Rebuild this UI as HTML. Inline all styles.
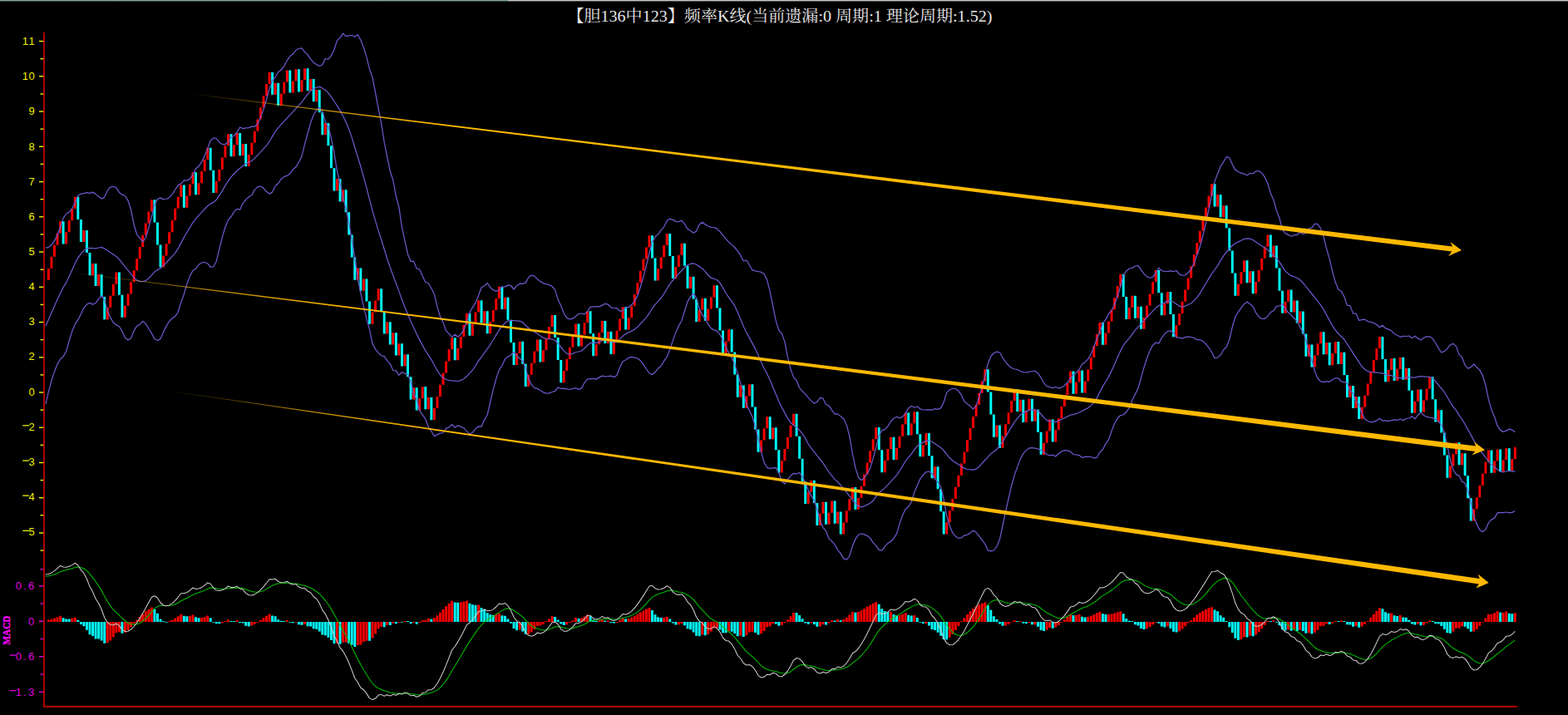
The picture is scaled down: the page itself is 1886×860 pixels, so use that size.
<!DOCTYPE html><html><head><meta charset="utf-8"><title>chart</title><style>html,body{margin:0;padding:0;background:#000;overflow:hidden}svg{display:block}</style></head><body><svg width="1886" height="860" viewBox="0 0 1886 860">
<rect width="1886" height="860" fill="#000"/>
<rect x="0" y="0" width="611" height="1" fill="#7fa591"/><rect x="611" y="0" width="1275" height="1" fill="#c8c8c8"/>
<rect x="142" y="0" width="2" height="1" fill="#9aaaa2"/><rect x="455.5" y="0" width="2" height="1" fill="#9aaaa2"/>
<rect x="0" y="1" width="611" height="1" fill="#7fa591" opacity="0.45"/><rect x="611" y="1" width="1275" height="1" fill="#c8c8c8" opacity="0.4"/>
<path fill="#ff0000" d="M56.95 322.94h2.9v14.15h-2.9zM60.49 308.79h2.9v14.15h-2.9zM64.03 294.64h2.9v14.15h-2.9zM67.58 280.49h2.9v14.15h-2.9zM71.12 266.34h2.9v14.15h-2.9zM78.20 279.30h2.9v14.15h-2.9zM81.74 265.15h2.9v14.15h-2.9zM85.29 251.00h2.9v14.15h-2.9zM88.83 236.85h2.9v14.15h-2.9zM99.45 276.92h2.9v14.15h-2.9zM110.08 316.99h2.9v14.15h-2.9zM117.16 329.95h2.9v14.15h-2.9zM127.79 370.02h2.9v14.15h-2.9zM131.33 355.87h2.9v14.15h-2.9zM134.87 341.72h2.9v14.15h-2.9zM138.42 327.57h2.9v14.15h-2.9zM149.04 367.64h2.9v14.15h-2.9zM152.58 353.49h2.9v14.15h-2.9zM156.13 339.34h2.9v14.15h-2.9zM159.67 325.19h2.9v14.15h-2.9zM163.21 311.04h2.9v14.15h-2.9zM166.75 296.89h2.9v14.15h-2.9zM170.29 282.74h2.9v14.15h-2.9zM173.84 268.59h2.9v14.15h-2.9zM177.38 254.44h2.9v14.15h-2.9zM180.92 240.29h2.9v14.15h-2.9zM195.09 307.47h2.9v14.15h-2.9zM198.63 293.32h2.9v14.15h-2.9zM202.17 279.17h2.9v14.15h-2.9zM205.71 265.02h2.9v14.15h-2.9zM209.26 250.87h2.9v14.15h-2.9zM212.80 236.72h2.9v14.15h-2.9zM216.34 222.57h2.9v14.15h-2.9zM223.42 235.53h2.9v14.15h-2.9zM226.97 221.38h2.9v14.15h-2.9zM230.51 207.23h2.9v14.15h-2.9zM237.59 220.19h2.9v14.15h-2.9zM241.13 206.04h2.9v14.15h-2.9zM244.68 191.89h2.9v14.15h-2.9zM248.22 177.74h2.9v14.15h-2.9zM258.84 217.81h2.9v14.15h-2.9zM262.39 203.66h2.9v14.15h-2.9zM265.93 189.51h2.9v14.15h-2.9zM269.47 175.36h2.9v14.15h-2.9zM273.01 161.21h2.9v14.15h-2.9zM280.10 174.17h2.9v14.15h-2.9zM283.64 160.02h2.9v14.15h-2.9zM290.72 172.98h2.9v14.15h-2.9zM297.81 185.94h2.9v14.15h-2.9zM301.35 171.79h2.9v14.15h-2.9zM304.89 157.64h2.9v14.15h-2.9zM308.43 143.49h2.9v14.15h-2.9zM311.97 129.34h2.9v14.15h-2.9zM315.52 115.19h2.9v14.15h-2.9zM319.06 101.04h2.9v14.15h-2.9zM322.60 86.89h2.9v14.15h-2.9zM329.68 99.85h2.9v14.15h-2.9zM336.77 112.81h2.9v14.15h-2.9zM340.31 98.66h2.9v14.15h-2.9zM343.85 84.51h2.9v14.15h-2.9zM350.94 97.47h2.9v14.15h-2.9zM354.48 83.32h2.9v14.15h-2.9zM361.56 96.28h2.9v14.15h-2.9zM365.10 82.13h2.9v14.15h-2.9zM372.19 95.09h2.9v14.15h-2.9zM379.27 108.05h2.9v14.15h-2.9zM389.90 148.12h2.9v14.15h-2.9zM404.07 215.30h2.9v14.15h-2.9zM411.15 228.26h2.9v14.15h-2.9zM428.86 322.55h2.9v14.15h-2.9zM435.94 335.51h2.9v14.15h-2.9zM446.57 375.58h2.9v14.15h-2.9zM450.11 361.43h2.9v14.15h-2.9zM453.65 347.28h2.9v14.15h-2.9zM464.28 387.35h2.9v14.15h-2.9zM471.36 400.31h2.9v14.15h-2.9zM478.45 413.27h2.9v14.15h-2.9zM485.53 426.23h2.9v14.15h-2.9zM496.16 466.30h2.9v14.15h-2.9zM503.24 479.26h2.9v14.15h-2.9zM506.78 465.11h2.9v14.15h-2.9zM513.87 478.07h2.9v14.15h-2.9zM520.95 491.03h2.9v14.15h-2.9zM524.49 476.88h2.9v14.15h-2.9zM528.04 462.73h2.9v14.15h-2.9zM531.58 448.58h2.9v14.15h-2.9zM535.12 434.43h2.9v14.15h-2.9zM538.66 420.28h2.9v14.15h-2.9zM542.20 406.13h2.9v14.15h-2.9zM549.29 419.09h2.9v14.15h-2.9zM552.83 404.94h2.9v14.15h-2.9zM556.37 390.79h2.9v14.15h-2.9zM559.91 376.64h2.9v14.15h-2.9zM567.00 389.60h2.9v14.15h-2.9zM570.54 375.45h2.9v14.15h-2.9zM574.08 361.30h2.9v14.15h-2.9zM581.17 374.26h2.9v14.15h-2.9zM588.25 387.22h2.9v14.15h-2.9zM591.79 373.07h2.9v14.15h-2.9zM595.33 358.92h2.9v14.15h-2.9zM598.88 344.77h2.9v14.15h-2.9zM605.96 357.73h2.9v14.15h-2.9zM620.13 424.91h2.9v14.15h-2.9zM623.67 410.76h2.9v14.15h-2.9zM634.30 450.83h2.9v14.15h-2.9zM637.84 436.68h2.9v14.15h-2.9zM641.38 422.53h2.9v14.15h-2.9zM644.92 408.38h2.9v14.15h-2.9zM652.01 421.34h2.9v14.15h-2.9zM655.55 407.19h2.9v14.15h-2.9zM659.09 393.04h2.9v14.15h-2.9zM662.63 378.89h2.9v14.15h-2.9zM676.80 446.07h2.9v14.15h-2.9zM680.34 431.92h2.9v14.15h-2.9zM683.88 417.77h2.9v14.15h-2.9zM687.43 403.62h2.9v14.15h-2.9zM690.97 389.47h2.9v14.15h-2.9zM698.05 402.43h2.9v14.15h-2.9zM701.59 388.28h2.9v14.15h-2.9zM705.14 374.13h2.9v14.15h-2.9zM715.76 414.20h2.9v14.15h-2.9zM719.30 400.05h2.9v14.15h-2.9zM722.85 385.90h2.9v14.15h-2.9zM729.93 398.86h2.9v14.15h-2.9zM737.01 411.82h2.9v14.15h-2.9zM740.56 397.67h2.9v14.15h-2.9zM744.10 383.52h2.9v14.15h-2.9zM747.64 369.37h2.9v14.15h-2.9zM754.72 382.33h2.9v14.15h-2.9zM758.27 368.18h2.9v14.15h-2.9zM761.81 354.03h2.9v14.15h-2.9zM765.35 339.88h2.9v14.15h-2.9zM768.89 325.73h2.9v14.15h-2.9zM772.43 311.58h2.9v14.15h-2.9zM775.98 297.43h2.9v14.15h-2.9zM779.52 283.28h2.9v14.15h-2.9zM790.14 323.35h2.9v14.15h-2.9zM793.69 309.20h2.9v14.15h-2.9zM797.23 295.05h2.9v14.15h-2.9zM800.77 280.90h2.9v14.15h-2.9zM811.40 320.97h2.9v14.15h-2.9zM814.94 306.82h2.9v14.15h-2.9zM818.48 292.67h2.9v14.15h-2.9zM829.11 332.74h2.9v14.15h-2.9zM839.73 372.81h2.9v14.15h-2.9zM843.27 358.66h2.9v14.15h-2.9zM850.36 371.62h2.9v14.15h-2.9zM853.90 357.47h2.9v14.15h-2.9zM857.44 343.32h2.9v14.15h-2.9zM871.61 410.50h2.9v14.15h-2.9zM875.15 396.35h2.9v14.15h-2.9zM889.32 463.53h2.9v14.15h-2.9zM896.40 476.49h2.9v14.15h-2.9zM899.95 462.34h2.9v14.15h-2.9zM914.11 529.52h2.9v14.15h-2.9zM917.66 515.37h2.9v14.15h-2.9zM921.20 501.22h2.9v14.15h-2.9zM928.28 514.18h2.9v14.15h-2.9zM938.91 554.25h2.9v14.15h-2.9zM942.45 540.10h2.9v14.15h-2.9zM945.99 525.95h2.9v14.15h-2.9zM949.53 511.80h2.9v14.15h-2.9zM953.08 497.65h2.9v14.15h-2.9zM970.79 591.94h2.9v14.15h-2.9zM974.33 577.79h2.9v14.15h-2.9zM984.95 617.86h2.9v14.15h-2.9zM988.50 603.71h2.9v14.15h-2.9zM995.58 616.67h2.9v14.15h-2.9zM999.12 602.52h2.9v14.15h-2.9zM1006.21 615.48h2.9v14.15h-2.9zM1013.29 628.44h2.9v14.15h-2.9zM1016.83 614.29h2.9v14.15h-2.9zM1020.37 600.14h2.9v14.15h-2.9zM1023.92 585.99h2.9v14.15h-2.9zM1031.00 598.95h2.9v14.15h-2.9zM1034.54 584.80h2.9v14.15h-2.9zM1038.08 570.65h2.9v14.15h-2.9zM1041.63 556.50h2.9v14.15h-2.9zM1045.17 542.35h2.9v14.15h-2.9zM1048.71 528.20h2.9v14.15h-2.9zM1052.25 514.05h2.9v14.15h-2.9zM1062.88 554.12h2.9v14.15h-2.9zM1066.42 539.97h2.9v14.15h-2.9zM1069.96 525.82h2.9v14.15h-2.9zM1077.05 538.78h2.9v14.15h-2.9zM1080.59 524.63h2.9v14.15h-2.9zM1084.13 510.48h2.9v14.15h-2.9zM1087.67 496.33h2.9v14.15h-2.9zM1094.76 509.29h2.9v14.15h-2.9zM1098.30 495.14h2.9v14.15h-2.9zM1108.92 535.21h2.9v14.15h-2.9zM1112.47 521.06h2.9v14.15h-2.9zM1123.09 561.13h2.9v14.15h-2.9zM1137.26 628.31h2.9v14.15h-2.9zM1140.80 614.16h2.9v14.15h-2.9zM1144.34 600.01h2.9v14.15h-2.9zM1147.89 585.86h2.9v14.15h-2.9zM1151.43 571.71h2.9v14.15h-2.9zM1154.97 557.56h2.9v14.15h-2.9zM1158.51 543.41h2.9v14.15h-2.9zM1162.05 529.26h2.9v14.15h-2.9zM1165.60 515.11h2.9v14.15h-2.9zM1169.14 500.96h2.9v14.15h-2.9zM1172.68 486.81h2.9v14.15h-2.9zM1176.22 472.66h2.9v14.15h-2.9zM1179.76 458.51h2.9v14.15h-2.9zM1183.31 444.36h2.9v14.15h-2.9zM1197.47 511.54h2.9v14.15h-2.9zM1204.56 524.50h2.9v14.15h-2.9zM1208.10 510.35h2.9v14.15h-2.9zM1211.64 496.20h2.9v14.15h-2.9zM1215.18 482.05h2.9v14.15h-2.9zM1218.73 467.90h2.9v14.15h-2.9zM1225.81 480.86h2.9v14.15h-2.9zM1232.89 493.82h2.9v14.15h-2.9zM1236.44 479.67h2.9v14.15h-2.9zM1243.52 492.63h2.9v14.15h-2.9zM1254.15 532.70h2.9v14.15h-2.9zM1257.69 518.55h2.9v14.15h-2.9zM1261.23 504.40h2.9v14.15h-2.9zM1268.31 517.36h2.9v14.15h-2.9zM1271.86 503.21h2.9v14.15h-2.9zM1275.40 489.06h2.9v14.15h-2.9zM1278.94 474.91h2.9v14.15h-2.9zM1282.48 460.76h2.9v14.15h-2.9zM1286.02 446.61h2.9v14.15h-2.9zM1293.11 459.57h2.9v14.15h-2.9zM1296.65 445.42h2.9v14.15h-2.9zM1303.73 458.38h2.9v14.15h-2.9zM1307.28 444.23h2.9v14.15h-2.9zM1310.82 430.08h2.9v14.15h-2.9zM1314.36 415.93h2.9v14.15h-2.9zM1317.90 401.78h2.9v14.15h-2.9zM1321.44 387.63h2.9v14.15h-2.9zM1328.53 400.59h2.9v14.15h-2.9zM1332.07 386.44h2.9v14.15h-2.9zM1335.61 372.29h2.9v14.15h-2.9zM1339.15 358.14h2.9v14.15h-2.9zM1342.70 343.99h2.9v14.15h-2.9zM1346.24 329.84h2.9v14.15h-2.9zM1356.86 369.91h2.9v14.15h-2.9zM1360.41 355.76h2.9v14.15h-2.9zM1367.49 368.72h2.9v14.15h-2.9zM1374.57 381.68h2.9v14.15h-2.9zM1378.12 367.53h2.9v14.15h-2.9zM1381.66 353.38h2.9v14.15h-2.9zM1385.20 339.23h2.9v14.15h-2.9zM1388.74 325.08h2.9v14.15h-2.9zM1399.37 365.15h2.9v14.15h-2.9zM1402.91 351.00h2.9v14.15h-2.9zM1413.54 391.07h2.9v14.15h-2.9zM1417.08 376.92h2.9v14.15h-2.9zM1420.62 362.77h2.9v14.15h-2.9zM1424.16 348.62h2.9v14.15h-2.9zM1427.70 334.47h2.9v14.15h-2.9zM1431.25 320.32h2.9v14.15h-2.9zM1434.79 306.17h2.9v14.15h-2.9zM1438.33 292.02h2.9v14.15h-2.9zM1441.87 277.87h2.9v14.15h-2.9zM1445.41 263.72h2.9v14.15h-2.9zM1448.96 249.57h2.9v14.15h-2.9zM1452.50 235.42h2.9v14.15h-2.9zM1456.04 221.27h2.9v14.15h-2.9zM1463.12 234.23h2.9v14.15h-2.9zM1470.21 247.19h2.9v14.15h-2.9zM1487.92 341.48h2.9v14.15h-2.9zM1491.46 327.33h2.9v14.15h-2.9zM1495.00 313.18h2.9v14.15h-2.9zM1502.09 326.14h2.9v14.15h-2.9zM1509.17 339.10h2.9v14.15h-2.9zM1512.71 324.95h2.9v14.15h-2.9zM1516.25 310.80h2.9v14.15h-2.9zM1519.80 296.65h2.9v14.15h-2.9zM1523.34 282.50h2.9v14.15h-2.9zM1530.42 295.46h2.9v14.15h-2.9zM1544.59 362.64h2.9v14.15h-2.9zM1548.13 348.49h2.9v14.15h-2.9zM1555.22 361.45h2.9v14.15h-2.9zM1562.30 374.41h2.9v14.15h-2.9zM1572.93 414.48h2.9v14.15h-2.9zM1580.01 427.44h2.9v14.15h-2.9zM1583.55 413.29h2.9v14.15h-2.9zM1587.09 399.14h2.9v14.15h-2.9zM1594.18 412.10h2.9v14.15h-2.9zM1601.26 425.06h2.9v14.15h-2.9zM1604.80 410.91h2.9v14.15h-2.9zM1611.89 423.87h2.9v14.15h-2.9zM1622.51 463.94h2.9v14.15h-2.9zM1629.60 476.90h2.9v14.15h-2.9zM1636.68 489.86h2.9v14.15h-2.9zM1640.22 475.71h2.9v14.15h-2.9zM1643.77 461.56h2.9v14.15h-2.9zM1647.31 447.41h2.9v14.15h-2.9zM1650.85 433.26h2.9v14.15h-2.9zM1654.39 419.11h2.9v14.15h-2.9zM1657.93 404.96h2.9v14.15h-2.9zM1668.56 445.03h2.9v14.15h-2.9zM1672.10 430.88h2.9v14.15h-2.9zM1679.19 443.84h2.9v14.15h-2.9zM1682.73 429.69h2.9v14.15h-2.9zM1689.81 442.65h2.9v14.15h-2.9zM1700.44 482.72h2.9v14.15h-2.9zM1703.98 468.57h2.9v14.15h-2.9zM1711.06 481.53h2.9v14.15h-2.9zM1714.61 467.38h2.9v14.15h-2.9zM1718.15 453.23h2.9v14.15h-2.9zM1728.77 493.30h2.9v14.15h-2.9zM1742.94 560.48h2.9v14.15h-2.9zM1746.48 546.33h2.9v14.15h-2.9zM1750.03 532.18h2.9v14.15h-2.9zM1757.11 545.14h2.9v14.15h-2.9zM1771.28 612.32h2.9v14.15h-2.9zM1774.82 598.17h2.9v14.15h-2.9zM1778.36 584.02h2.9v14.15h-2.9zM1781.90 569.87h2.9v14.15h-2.9zM1785.45 555.72h2.9v14.15h-2.9zM1788.99 541.57h2.9v14.15h-2.9zM1796.07 554.53h2.9v14.15h-2.9zM1799.61 540.38h2.9v14.15h-2.9zM1806.70 553.34h2.9v14.15h-2.9zM1810.24 539.19h2.9v14.15h-2.9zM1817.32 552.15h2.9v14.15h-2.9zM1820.87 538.00h2.9v14.15h-2.9z"/>
<path fill="#00ffff" d="M74.66 266.34h2.9v27.11h-2.9zM92.37 236.85h2.9v27.11h-2.9zM95.91 263.96h2.9v27.11h-2.9zM103.00 276.92h2.9v27.11h-2.9zM106.54 304.03h2.9v27.11h-2.9zM113.62 316.99h2.9v27.11h-2.9zM120.71 329.95h2.9v27.11h-2.9zM124.25 357.06h2.9v27.11h-2.9zM141.96 327.57h2.9v27.11h-2.9zM145.50 354.68h2.9v27.11h-2.9zM184.46 240.29h2.9v27.11h-2.9zM188.00 267.40h2.9v27.11h-2.9zM191.55 294.51h2.9v27.11h-2.9zM219.88 222.57h2.9v27.11h-2.9zM234.05 207.23h2.9v27.11h-2.9zM251.76 177.74h2.9v27.11h-2.9zM255.30 204.85h2.9v27.11h-2.9zM276.55 161.21h2.9v27.11h-2.9zM287.18 160.02h2.9v27.11h-2.9zM294.26 172.98h2.9v27.11h-2.9zM326.14 86.89h2.9v27.11h-2.9zM333.23 99.85h2.9v27.11h-2.9zM347.39 84.51h2.9v27.11h-2.9zM358.02 83.32h2.9v27.11h-2.9zM368.65 82.13h2.9v27.11h-2.9zM375.73 95.09h2.9v27.11h-2.9zM382.81 108.05h2.9v27.11h-2.9zM386.36 135.16h2.9v27.11h-2.9zM393.44 148.12h2.9v27.11h-2.9zM396.98 175.23h2.9v27.11h-2.9zM400.52 202.34h2.9v27.11h-2.9zM407.61 215.30h2.9v27.11h-2.9zM414.69 228.26h2.9v27.11h-2.9zM418.23 255.37h2.9v27.11h-2.9zM421.78 282.48h2.9v27.11h-2.9zM425.32 309.59h2.9v27.11h-2.9zM432.40 322.55h2.9v27.11h-2.9zM439.49 335.51h2.9v27.11h-2.9zM443.03 362.62h2.9v27.11h-2.9zM457.20 347.28h2.9v27.11h-2.9zM460.74 374.39h2.9v27.11h-2.9zM467.82 387.35h2.9v27.11h-2.9zM474.91 400.31h2.9v27.11h-2.9zM481.99 413.27h2.9v27.11h-2.9zM489.07 426.23h2.9v27.11h-2.9zM492.62 453.34h2.9v27.11h-2.9zM499.70 466.30h2.9v27.11h-2.9zM510.33 465.11h2.9v27.11h-2.9zM517.41 478.07h2.9v27.11h-2.9zM545.75 406.13h2.9v27.11h-2.9zM563.46 376.64h2.9v27.11h-2.9zM577.62 361.30h2.9v27.11h-2.9zM584.71 374.26h2.9v27.11h-2.9zM602.42 344.77h2.9v27.11h-2.9zM609.50 357.73h2.9v27.11h-2.9zM613.04 384.84h2.9v27.11h-2.9zM616.59 411.95h2.9v27.11h-2.9zM627.21 410.76h2.9v27.11h-2.9zM630.75 437.87h2.9v27.11h-2.9zM648.46 408.38h2.9v27.11h-2.9zM666.17 378.89h2.9v27.11h-2.9zM669.72 406.00h2.9v27.11h-2.9zM673.26 433.11h2.9v27.11h-2.9zM694.51 389.47h2.9v27.11h-2.9zM708.68 374.13h2.9v27.11h-2.9zM712.22 401.24h2.9v27.11h-2.9zM726.39 385.90h2.9v27.11h-2.9zM733.47 398.86h2.9v27.11h-2.9zM751.18 369.37h2.9v27.11h-2.9zM783.06 283.28h2.9v27.11h-2.9zM786.60 310.39h2.9v27.11h-2.9zM804.31 280.90h2.9v27.11h-2.9zM807.85 308.01h2.9v27.11h-2.9zM822.02 292.67h2.9v27.11h-2.9zM825.56 319.78h2.9v27.11h-2.9zM832.65 332.74h2.9v27.11h-2.9zM836.19 359.85h2.9v27.11h-2.9zM846.82 358.66h2.9v27.11h-2.9zM860.98 343.32h2.9v27.11h-2.9zM864.53 370.43h2.9v27.11h-2.9zM868.07 397.54h2.9v27.11h-2.9zM878.69 396.35h2.9v27.11h-2.9zM882.24 423.46h2.9v27.11h-2.9zM885.78 450.57h2.9v27.11h-2.9zM892.86 463.53h2.9v27.11h-2.9zM903.49 462.34h2.9v27.11h-2.9zM907.03 489.45h2.9v27.11h-2.9zM910.57 516.56h2.9v27.11h-2.9zM924.74 501.22h2.9v27.11h-2.9zM931.82 514.18h2.9v27.11h-2.9zM935.37 541.29h2.9v27.11h-2.9zM956.62 497.65h2.9v27.11h-2.9zM960.16 524.76h2.9v27.11h-2.9zM963.70 551.87h2.9v27.11h-2.9zM967.24 578.98h2.9v27.11h-2.9zM977.87 577.79h2.9v27.11h-2.9zM981.41 604.90h2.9v27.11h-2.9zM992.04 603.71h2.9v27.11h-2.9zM1002.66 602.52h2.9v27.11h-2.9zM1009.75 615.48h2.9v27.11h-2.9zM1027.46 585.99h2.9v27.11h-2.9zM1055.79 514.05h2.9v27.11h-2.9zM1059.34 541.16h2.9v27.11h-2.9zM1073.50 525.82h2.9v27.11h-2.9zM1091.21 496.33h2.9v27.11h-2.9zM1101.84 495.14h2.9v27.11h-2.9zM1105.38 522.25h2.9v27.11h-2.9zM1116.01 521.06h2.9v27.11h-2.9zM1119.55 548.17h2.9v27.11h-2.9zM1126.63 561.13h2.9v27.11h-2.9zM1130.18 588.24h2.9v27.11h-2.9zM1133.72 615.35h2.9v27.11h-2.9zM1186.85 444.36h2.9v27.11h-2.9zM1190.39 471.47h2.9v27.11h-2.9zM1193.93 498.58h2.9v27.11h-2.9zM1201.02 511.54h2.9v27.11h-2.9zM1222.27 467.90h2.9v27.11h-2.9zM1229.35 480.86h2.9v27.11h-2.9zM1239.98 479.67h2.9v27.11h-2.9zM1247.06 492.63h2.9v27.11h-2.9zM1250.60 519.74h2.9v27.11h-2.9zM1264.77 504.40h2.9v27.11h-2.9zM1289.57 446.61h2.9v27.11h-2.9zM1300.19 445.42h2.9v27.11h-2.9zM1324.99 387.63h2.9v27.11h-2.9zM1349.78 329.84h2.9v27.11h-2.9zM1353.32 356.95h2.9v27.11h-2.9zM1363.95 355.76h2.9v27.11h-2.9zM1371.03 368.72h2.9v27.11h-2.9zM1392.28 325.08h2.9v27.11h-2.9zM1395.83 352.19h2.9v27.11h-2.9zM1406.45 351.00h2.9v27.11h-2.9zM1409.99 378.11h2.9v27.11h-2.9zM1459.58 221.27h2.9v27.11h-2.9zM1466.67 234.23h2.9v27.11h-2.9zM1473.75 247.19h2.9v27.11h-2.9zM1477.29 274.30h2.9v27.11h-2.9zM1480.83 301.41h2.9v27.11h-2.9zM1484.38 328.52h2.9v27.11h-2.9zM1498.54 313.18h2.9v27.11h-2.9zM1505.63 326.14h2.9v27.11h-2.9zM1526.88 282.50h2.9v27.11h-2.9zM1533.96 295.46h2.9v27.11h-2.9zM1537.51 322.57h2.9v27.11h-2.9zM1541.05 349.68h2.9v27.11h-2.9zM1551.67 348.49h2.9v27.11h-2.9zM1558.76 361.45h2.9v27.11h-2.9zM1565.84 374.41h2.9v27.11h-2.9zM1569.38 401.52h2.9v27.11h-2.9zM1576.47 414.48h2.9v27.11h-2.9zM1590.64 399.14h2.9v27.11h-2.9zM1597.72 412.10h2.9v27.11h-2.9zM1608.35 410.91h2.9v27.11h-2.9zM1615.43 423.87h2.9v27.11h-2.9zM1618.97 450.98h2.9v27.11h-2.9zM1626.06 463.94h2.9v27.11h-2.9zM1633.14 476.90h2.9v27.11h-2.9zM1661.48 404.96h2.9v27.11h-2.9zM1665.02 432.07h2.9v27.11h-2.9zM1675.64 430.88h2.9v27.11h-2.9zM1686.27 429.69h2.9v27.11h-2.9zM1693.35 442.65h2.9v27.11h-2.9zM1696.90 469.76h2.9v27.11h-2.9zM1707.52 468.57h2.9v27.11h-2.9zM1721.69 453.23h2.9v27.11h-2.9zM1725.23 480.34h2.9v27.11h-2.9zM1732.32 493.30h2.9v27.11h-2.9zM1735.86 520.41h2.9v27.11h-2.9zM1739.40 547.52h2.9v27.11h-2.9zM1753.57 532.18h2.9v27.11h-2.9zM1760.65 545.14h2.9v27.11h-2.9zM1764.19 572.25h2.9v27.11h-2.9zM1767.74 599.36h2.9v27.11h-2.9zM1792.53 541.57h2.9v27.11h-2.9zM1803.16 540.38h2.9v27.11h-2.9zM1813.78 539.19h2.9v27.11h-2.9z"/>
<polyline fill="none" stroke="#6a5acd" stroke-width="1.25" stroke-linejoin="round" points="54.9,298.2 58.4,297.3 61.9,294.5 65.5,289.7 69.0,282.6 72.6,273.0 76.1,262.4 79.7,257.0 83.2,255.4 86.7,250.8 90.3,243.7 93.8,235.3 97.4,233.1 100.9,232.7 104.4,231.7 108.0,232.3 111.5,231.1 115.1,233.4 118.6,236.4 122.2,239.1 125.7,237.1 129.2,229.2 132.8,225.1 136.3,224.2 139.9,225.9 143.4,231.4 146.9,234.2 150.5,235.5 154.0,241.4 157.6,252.5 161.1,270.2 164.7,282.3 168.2,286.4 171.7,291.0 175.3,286.0 178.8,274.2 182.4,260.8 185.9,246.2 189.5,239.4 193.0,237.9 196.5,239.9 200.1,239.5 203.6,237.5 207.2,233.6 210.7,228.0 214.2,222.9 217.8,220.9 221.3,216.9 224.9,217.2 228.4,215.1 232.0,209.9 235.5,203.0 239.0,200.1 242.6,194.9 246.1,187.5 249.7,178.4 253.2,169.1 256.8,165.9 260.3,166.5 263.8,171.2 267.4,173.6 270.9,173.7 274.5,170.6 278.0,165.0 281.5,163.5 285.1,159.0 288.6,153.0 292.2,154.6 295.7,153.9 299.3,153.6 302.8,152.1 306.3,152.5 309.9,148.7 313.4,141.4 317.0,131.4 320.5,119.7 324.0,107.0 327.6,97.2 331.1,92.7 334.7,86.7 338.2,84.0 341.8,79.4 345.3,72.8 348.8,67.6 352.4,65.0 355.9,60.3 359.5,58.5 363.0,57.9 366.6,62.6 370.1,65.8 373.6,70.9 377.2,75.3 380.7,77.6 384.3,79.5 387.8,77.8 391.3,70.5 394.9,71.3 398.4,66.9 402.0,59.8 405.5,48.6 409.1,45.1 412.6,40.2 416.1,43.6 419.7,42.9 423.2,42.5 426.8,44.3 430.3,41.7 433.9,48.3 437.4,57.2 440.9,68.6 444.5,83.2 448.0,93.1 451.6,111.7 455.1,130.3 458.6,148.2 462.2,171.0 465.7,188.7 469.3,206.0 472.8,216.8 476.4,236.1 479.9,249.4 483.4,272.8 487.0,289.9 490.5,305.8 494.1,314.4 497.6,314.3 501.1,322.8 504.7,324.0 508.2,332.0 511.8,339.5 515.3,340.5 518.9,346.7 522.4,353.9 525.9,368.9 529.5,380.8 533.0,387.9 536.6,397.9 540.1,401.4 543.7,405.4 547.2,402.2 550.7,405.2 554.3,401.9 557.8,396.9 561.4,386.9 564.9,375.9 568.4,369.9 572.0,364.2 575.5,355.4 579.1,345.8 582.6,344.0 586.2,340.5 589.7,345.7 593.2,348.9 596.8,350.3 600.3,348.8 603.9,345.1 607.4,344.9 611.0,342.9 614.5,343.5 618.0,348.0 621.6,343.7 625.1,341.2 628.7,341.4 632.2,340.1 635.7,333.8 639.3,331.1 642.8,331.8 646.4,335.8 649.9,338.4 653.5,340.7 657.0,341.6 660.5,342.6 664.1,344.5 667.6,348.6 671.2,360.2 674.7,367.7 678.2,376.8 681.8,382.4 685.3,383.9 688.9,383.2 692.4,380.4 696.0,377.5 699.5,377.0 703.0,377.8 706.6,374.6 710.1,369.4 713.7,368.9 717.2,368.6 720.8,368.9 724.3,367.1 727.8,365.3 731.4,366.2 734.9,369.8 738.5,370.5 742.0,370.7 745.5,374.2 749.1,373.8 752.6,370.3 756.2,369.4 759.7,366.8 763.3,362.4 766.8,355.6 770.3,345.2 773.9,332.9 777.4,319.6 781.0,304.5 784.5,291.1 788.1,284.8 791.6,281.6 795.1,276.8 798.7,272.8 802.2,265.8 805.8,263.1 809.3,264.4 812.8,266.4 816.4,266.7 819.9,265.1 823.5,269.3 827.0,275.2 830.6,277.6 834.1,280.2 837.6,278.1 841.2,269.9 844.7,267.3 848.3,269.9 851.8,272.0 855.3,273.4 858.9,273.7 862.4,275.4 866.0,278.5 869.5,282.8 873.1,287.3 876.6,291.2 880.1,294.4 883.7,297.5 887.2,301.8 890.8,307.1 894.3,314.0 897.9,313.0 901.4,318.8 904.9,324.8 908.5,325.9 912.0,326.5 915.6,327.3 919.1,329.6 922.6,336.6 926.2,350.6 929.7,368.6 933.3,385.9 936.8,397.3 940.4,401.1 943.9,411.1 947.4,429.4 951.0,444.3 954.5,453.6 958.1,457.8 961.6,466.4 965.2,470.3 968.7,474.2 972.2,478.4 975.8,482.1 979.3,485.1 982.9,483.5 986.4,478.3 989.9,479.2 993.5,486.5 997.0,487.8 1000.6,493.3 1004.1,498.1 1007.7,497.9 1011.2,500.9 1014.7,503.7 1018.3,511.4 1021.8,524.5 1025.4,545.7 1028.9,562.6 1032.5,574.0 1036.0,577.7 1039.5,574.8 1043.1,569.7 1046.6,563.4 1050.2,551.6 1053.7,538.3 1057.2,523.8 1060.8,517.7 1064.3,516.6 1067.9,512.7 1071.4,507.0 1075.0,503.2 1078.5,501.2 1082.0,502.9 1085.6,501.4 1089.1,497.1 1092.7,490.9 1096.2,488.4 1099.7,490.0 1103.3,489.0 1106.8,491.8 1110.4,493.0 1113.9,492.9 1117.5,492.7 1121.0,493.3 1124.5,491.6 1128.1,492.4 1131.6,490.9 1135.2,483.5 1138.7,472.4 1142.3,468.8 1145.8,467.3 1149.3,467.5 1152.9,470.2 1156.4,475.3 1160.0,483.1 1163.5,485.8 1167.0,488.6 1170.6,492.2 1174.1,488.1 1177.7,477.6 1181.2,465.4 1184.8,452.5 1188.3,437.3 1191.8,428.7 1195.4,424.5 1198.9,423.1 1202.5,424.0 1206.0,430.3 1209.5,435.3 1213.1,439.5 1216.6,442.5 1220.2,444.0 1223.7,444.5 1227.3,446.5 1230.8,447.7 1234.3,448.0 1237.9,447.3 1241.4,446.5 1245.0,446.4 1248.5,448.9 1252.1,454.3 1255.6,460.8 1259.1,464.6 1262.7,465.5 1266.2,466.7 1269.8,465.5 1273.3,466.9 1276.8,466.1 1280.4,463.8 1283.9,460.2 1287.5,455.3 1291.0,450.8 1294.6,448.5 1298.1,444.3 1301.6,438.0 1305.2,435.4 1308.7,431.9 1312.3,425.7 1315.8,416.9 1319.4,407.2 1322.9,399.2 1326.4,389.1 1330.0,384.4 1333.5,377.3 1337.1,373.5 1340.6,366.5 1344.1,356.8 1347.7,344.6 1351.2,331.6 1354.8,325.9 1358.3,323.0 1361.9,322.4 1365.4,320.0 1368.9,319.4 1372.5,324.7 1376.0,329.4 1379.6,332.8 1383.1,334.3 1386.7,333.0 1390.2,328.5 1393.7,322.2 1397.3,325.5 1400.8,326.6 1404.4,326.3 1407.9,325.8 1411.4,326.6 1415.0,325.5 1418.5,329.9 1422.1,331.2 1425.6,330.8 1429.2,328.0 1432.7,323.9 1436.2,317.1 1439.8,307.0 1443.3,296.8 1446.9,283.4 1450.4,268.2 1453.9,251.9 1457.5,234.8 1461.0,218.4 1464.6,208.8 1468.1,200.1 1471.7,194.6 1475.2,188.7 1478.7,189.7 1482.3,197.7 1485.8,204.4 1489.4,206.5 1492.9,208.1 1496.5,209.1 1500.0,210.7 1503.5,208.7 1507.1,208.7 1510.6,205.9 1514.2,205.8 1517.7,208.1 1521.2,212.9 1524.8,220.4 1528.3,232.4 1531.9,240.6 1535.4,253.2 1539.0,262.5 1542.5,276.4 1546.0,280.6 1549.6,282.6 1553.1,284.3 1556.7,282.5 1560.2,282.5 1563.8,279.5 1567.3,281.7 1570.8,280.1 1574.4,274.9 1577.9,273.8 1581.5,269.2 1585.0,269.7 1588.5,274.6 1592.1,285.2 1595.6,299.2 1599.2,311.4 1602.7,326.9 1606.3,339.4 1609.8,348.2 1613.3,350.3 1616.9,357.0 1620.4,367.2 1624.0,367.9 1627.5,377.1 1631.0,377.0 1634.6,385.3 1638.1,384.7 1641.7,384.2 1645.2,386.6 1648.8,387.4 1652.3,388.4 1655.8,390.5 1659.4,393.7 1662.9,391.3 1666.5,394.9 1670.0,396.1 1673.6,397.7 1677.1,401.7 1680.6,403.3 1684.2,405.3 1687.7,404.3 1691.3,404.5 1694.8,404.0 1698.3,406.7 1701.9,404.2 1705.4,406.9 1709.0,409.0 1712.5,406.2 1716.1,404.9 1719.6,404.8 1723.1,407.2 1726.7,412.5 1730.2,418.9 1733.8,424.0 1737.3,422.6 1740.8,419.2 1744.4,414.9 1747.9,413.3 1751.5,416.6 1755.0,426.4 1758.6,429.8 1762.1,439.2 1765.6,443.2 1769.2,441.6 1772.7,438.0 1776.3,441.8 1779.8,445.1 1783.4,451.9 1786.9,463.2 1790.4,480.4 1794.0,493.1 1797.5,500.9 1801.1,512.2 1804.6,517.4 1808.1,519.4 1811.7,518.1 1815.2,516.1 1818.8,517.2 1822.3,519.7" />
<polyline fill="none" stroke="#6a5acd" stroke-width="1.25" stroke-linejoin="round" points="54.9,392.2 58.4,384.2 61.9,376.3 65.5,368.3 69.0,360.3 72.6,352.4 76.1,345.7 79.7,339.8 83.2,332.6 86.7,324.7 90.3,316.7 93.8,310.0 97.4,305.3 100.9,301.5 104.4,298.9 108.0,298.3 111.5,298.6 115.1,298.9 118.6,298.0 122.2,297.4 125.7,299.0 129.2,301.3 132.8,303.7 136.3,306.0 139.9,308.4 143.4,312.0 146.9,316.4 150.5,320.8 154.0,325.2 157.6,329.7 161.1,334.1 164.7,337.2 168.2,338.4 171.7,338.7 175.3,337.7 178.8,334.7 182.4,330.9 185.9,327.0 189.5,324.4 193.0,322.7 196.5,319.6 200.1,315.8 203.6,312.0 207.2,308.1 210.7,304.3 214.2,299.2 217.8,292.1 221.3,285.4 224.9,279.5 228.4,273.6 232.0,267.7 235.5,263.0 239.0,259.2 242.6,255.4 246.1,251.5 249.7,247.7 253.2,245.1 256.8,243.3 260.3,240.3 263.8,235.2 267.4,229.3 270.9,223.4 274.5,217.5 278.0,212.9 281.5,209.0 285.1,205.2 288.6,202.6 292.2,199.6 295.7,197.0 299.3,195.2 302.8,193.5 306.3,190.4 309.9,186.6 313.4,182.8 317.0,178.9 320.5,175.1 324.0,170.0 327.6,164.1 331.1,158.2 334.7,153.6 338.2,149.7 341.8,145.9 345.3,142.1 348.8,138.2 352.4,134.4 355.9,130.6 359.5,126.7 363.0,122.9 366.6,117.8 370.1,113.2 373.6,109.3 377.2,106.7 380.7,105.0 384.3,104.4 387.8,106.0 391.3,108.3 394.9,111.9 398.4,116.3 402.0,122.0 405.5,127.2 409.1,132.9 412.6,139.4 416.1,147.1 419.7,155.6 423.2,165.4 426.8,177.2 430.3,188.7 433.9,200.5 437.4,213.2 440.9,225.9 444.5,239.8 448.0,253.3 451.6,265.9 455.1,277.4 458.6,288.0 462.2,299.8 465.7,311.2 469.3,321.8 472.8,331.2 476.4,341.0 479.9,350.4 483.4,360.1 487.0,369.5 490.5,378.0 494.1,386.6 497.6,393.9 501.1,401.6 504.7,408.9 508.2,415.4 511.8,421.9 515.3,427.1 518.9,432.8 522.4,439.3 525.9,445.7 529.5,451.0 533.0,454.2 536.6,456.5 540.1,457.6 543.7,457.9 547.2,458.2 550.7,458.5 554.3,457.6 557.8,455.8 561.4,452.8 564.9,448.9 568.4,445.1 572.0,440.0 575.5,434.1 579.1,429.5 582.6,424.4 586.2,419.7 589.7,414.7 593.2,408.8 596.8,402.9 600.3,397.0 603.9,392.3 607.4,388.5 611.0,385.9 614.5,385.3 618.0,385.6 621.6,385.9 625.1,386.2 628.7,387.7 632.2,391.3 635.7,394.5 639.3,396.9 642.8,399.2 646.4,401.6 649.9,403.9 653.5,406.3 657.0,407.4 660.5,407.7 664.1,408.0 667.6,409.5 671.2,413.1 674.7,417.5 678.2,421.9 681.8,425.1 685.3,426.2 688.9,425.3 692.4,423.5 696.0,423.0 699.5,422.0 703.0,419.0 706.6,415.2 710.1,412.6 713.7,412.1 717.2,412.4 720.8,411.4 724.3,409.6 727.8,409.1 731.4,409.4 734.9,410.9 738.5,412.0 742.0,411.1 745.5,408.1 749.1,404.2 752.6,401.6 756.2,399.9 759.7,398.1 763.3,396.3 766.8,393.3 770.3,389.5 773.9,385.6 777.4,381.8 781.0,376.7 784.5,370.8 788.1,366.2 791.6,362.3 795.1,358.5 798.7,353.4 802.2,347.5 805.8,341.6 809.3,337.0 812.8,333.1 816.4,329.3 819.9,325.5 823.5,321.6 827.0,319.0 830.6,317.3 834.1,316.7 837.6,318.3 841.2,320.6 844.7,323.0 848.3,326.6 851.8,331.0 855.3,334.2 858.9,335.3 862.4,336.8 866.0,340.4 869.5,346.1 873.1,352.5 876.6,357.8 880.1,362.2 883.7,367.9 887.2,375.6 890.8,384.1 894.3,392.7 897.9,400.0 901.4,406.4 904.9,412.9 908.5,419.4 912.0,427.1 915.6,435.7 919.1,443.0 922.6,449.4 926.2,457.2 929.7,465.7 933.3,474.2 936.8,482.8 940.4,490.1 943.9,496.6 947.4,503.1 951.0,508.3 954.5,511.5 958.1,513.8 961.6,517.4 965.2,521.8 968.7,527.5 972.2,534.0 975.8,539.2 979.3,543.6 982.9,548.1 986.4,552.5 989.9,556.9 993.5,562.5 997.0,567.8 1000.6,572.2 1004.1,576.6 1007.7,579.8 1011.2,583.4 1014.7,587.8 1018.3,592.2 1021.8,596.6 1025.4,601.1 1028.9,605.5 1032.5,608.7 1036.0,609.8 1039.5,608.8 1043.1,607.1 1046.6,605.3 1050.2,602.3 1053.7,597.2 1057.2,592.5 1060.8,589.9 1064.3,586.9 1067.9,583.1 1071.4,579.3 1075.0,575.4 1078.5,571.6 1082.0,566.5 1085.6,560.6 1089.1,554.7 1092.7,550.1 1096.2,546.2 1099.7,541.2 1103.3,536.5 1106.8,533.9 1110.4,532.1 1113.9,530.4 1117.5,529.8 1121.0,531.3 1124.5,533.7 1128.1,536.1 1131.6,538.4 1135.2,542.0 1138.7,546.4 1142.3,550.8 1145.8,554.0 1149.3,556.4 1152.9,558.7 1156.4,561.1 1160.0,563.4 1163.5,564.5 1167.0,564.8 1170.6,565.1 1174.1,564.2 1177.7,561.2 1181.2,557.3 1184.8,553.5 1188.3,549.7 1191.8,545.8 1195.4,543.2 1198.9,540.2 1202.5,536.4 1206.0,531.3 1209.5,525.4 1213.1,519.5 1216.6,513.6 1220.2,507.7 1223.7,503.1 1227.3,499.2 1230.8,496.6 1234.3,494.9 1237.9,493.1 1241.4,492.6 1245.0,492.8 1248.5,494.4 1252.1,498.0 1255.6,502.4 1259.1,505.6 1262.7,506.7 1266.2,507.0 1269.8,507.3 1273.3,506.3 1276.8,504.5 1280.4,502.8 1283.9,501.0 1287.5,499.2 1291.0,498.7 1294.6,497.7 1298.1,496.0 1301.6,494.2 1305.2,492.4 1308.7,490.7 1312.3,487.6 1315.8,483.8 1319.4,478.7 1322.9,471.6 1326.4,464.9 1330.0,459.0 1333.5,453.1 1337.1,445.9 1340.6,438.0 1344.1,430.0 1347.7,422.1 1351.2,415.3 1354.8,410.7 1358.3,406.8 1361.9,401.8 1365.4,397.1 1368.9,393.3 1372.5,389.4 1376.0,385.6 1379.6,381.8 1383.1,377.9 1386.7,374.1 1390.2,370.3 1393.7,367.7 1397.3,365.9 1400.8,364.1 1404.4,362.4 1407.9,361.8 1411.4,363.3 1415.0,365.7 1418.5,368.1 1422.1,369.2 1425.6,368.2 1429.2,366.5 1432.7,364.7 1436.2,361.7 1439.8,357.8 1443.3,352.8 1446.9,346.9 1450.4,341.0 1453.9,335.1 1457.5,329.2 1461.0,324.5 1464.6,319.4 1468.1,313.5 1471.7,307.6 1475.2,303.0 1478.7,299.1 1482.3,295.3 1485.8,292.7 1489.4,290.9 1492.9,289.2 1496.5,287.4 1500.0,286.9 1503.5,287.2 1507.1,288.7 1510.6,291.0 1514.2,293.4 1517.7,295.7 1521.2,298.1 1524.8,300.5 1528.3,304.0 1531.9,307.2 1535.4,310.8 1539.0,315.2 1542.5,320.9 1546.0,326.1 1549.6,329.3 1553.1,331.7 1556.7,332.8 1560.2,334.3 1563.8,336.7 1567.3,340.3 1570.8,344.7 1574.4,349.1 1577.9,353.5 1581.5,357.9 1585.0,362.3 1588.5,366.8 1592.1,372.4 1595.6,378.9 1599.2,385.4 1602.7,391.9 1606.3,397.1 1609.8,401.5 1613.3,404.7 1616.9,408.3 1620.4,413.9 1624.0,419.2 1627.5,424.8 1631.0,430.1 1634.6,435.7 1638.1,441.0 1641.7,444.2 1645.2,446.5 1648.8,447.6 1652.3,447.9 1655.8,448.2 1659.4,448.5 1662.9,448.8 1666.5,450.3 1670.0,451.4 1673.6,451.7 1677.1,453.3 1680.6,454.4 1684.2,454.7 1687.7,455.0 1691.3,454.0 1694.8,453.5 1698.3,453.8 1701.9,454.1 1705.4,453.1 1709.0,452.6 1712.5,452.9 1716.1,453.2 1719.6,453.4 1723.1,455.0 1726.7,458.6 1730.2,463.0 1733.8,467.4 1737.3,471.8 1740.8,477.5 1744.4,484.0 1747.9,489.2 1751.5,493.6 1755.0,499.3 1758.6,504.5 1762.1,510.2 1765.6,516.6 1769.2,523.1 1772.7,529.6 1776.3,536.1 1779.8,541.3 1783.4,545.7 1786.9,550.2 1790.4,554.6 1794.0,559.0 1797.5,562.2 1801.1,564.5 1804.6,566.9 1808.1,568.0 1811.7,567.0 1815.2,566.5 1818.8,566.8 1822.3,567.1" />
<polyline fill="none" stroke="#6a5acd" stroke-width="1.25" stroke-linejoin="round" points="54.9,486.1 58.4,471.2 61.9,458.0 65.5,446.9 69.0,438.1 72.6,431.8 76.1,428.9 79.7,422.5 83.2,409.8 86.7,398.5 90.3,389.7 93.8,384.7 97.4,377.6 100.9,370.3 104.4,366.1 108.0,364.4 111.5,366.1 115.1,364.5 118.6,359.6 122.2,355.8 125.7,360.8 129.2,373.5 132.8,382.2 136.3,387.9 139.9,390.9 143.4,392.5 146.9,398.6 150.5,406.2 154.0,409.0 157.6,406.8 161.1,397.9 164.7,392.2 168.2,390.4 171.7,386.3 175.3,389.4 178.8,395.2 182.4,400.9 185.9,407.8 189.5,409.5 193.0,407.4 196.5,399.4 200.1,392.1 203.6,386.5 207.2,382.7 210.7,380.6 214.2,375.5 217.8,363.3 221.3,353.8 224.9,341.7 228.4,332.1 232.0,325.4 235.5,323.1 239.0,318.3 242.6,315.9 246.1,315.5 249.7,317.0 253.2,321.1 256.8,320.8 260.3,314.2 263.8,299.3 267.4,285.1 270.9,273.2 274.5,264.5 278.0,260.8 281.5,254.6 285.1,251.4 288.6,252.2 292.2,244.6 295.7,240.1 299.3,236.8 302.8,234.8 306.3,228.4 309.9,224.6 313.4,224.2 317.0,226.4 320.5,230.5 324.0,233.1 327.6,231.1 331.1,223.8 334.7,220.5 338.2,215.4 341.8,212.4 345.3,211.4 348.8,208.8 352.4,203.8 355.9,200.8 359.5,195.0 363.0,187.9 366.6,173.1 370.1,160.5 373.6,147.8 377.2,138.2 380.7,132.3 384.3,129.3 387.8,134.1 391.3,146.2 394.9,152.5 398.4,165.8 402.0,184.2 405.5,205.9 409.1,220.6 412.6,238.5 416.1,250.5 419.7,268.3 423.2,288.3 426.8,310.2 430.3,335.6 433.9,352.7 437.4,369.2 440.9,383.1 444.5,396.3 448.0,413.4 451.6,420.2 455.1,424.4 458.6,427.8 462.2,428.6 465.7,433.8 469.3,437.7 472.8,445.6 476.4,445.9 479.9,451.3 483.4,447.5 487.0,449.1 490.5,450.3 494.1,458.8 497.6,473.5 501.1,480.4 504.7,493.8 508.2,498.8 511.8,504.2 515.3,513.7 518.9,518.8 522.4,524.6 525.9,522.6 529.5,521.2 533.0,520.5 536.6,515.1 540.1,513.8 543.7,510.5 547.2,514.2 550.7,511.8 554.3,513.2 557.8,514.7 561.4,518.6 564.9,521.9 568.4,520.3 572.0,515.8 575.5,512.8 579.1,513.2 582.6,504.8 586.2,499.0 589.7,483.6 593.2,468.6 596.8,455.5 600.3,445.1 603.9,439.5 607.4,432.1 611.0,428.8 614.5,427.2 618.0,423.3 621.6,428.2 625.1,431.2 628.7,434.1 632.2,442.6 635.7,455.3 639.3,462.7 642.8,466.6 646.4,467.4 649.9,469.5 653.5,471.8 657.0,473.2 660.5,472.8 664.1,471.5 667.6,470.4 671.2,466.0 674.7,467.3 678.2,467.1 681.8,467.8 685.3,468.5 688.9,467.4 692.4,466.7 696.0,468.4 699.5,467.1 703.0,460.3 706.6,455.8 710.1,455.8 713.7,455.3 717.2,456.1 720.8,453.9 724.3,452.1 727.8,452.9 731.4,452.6 734.9,452.1 738.5,453.6 742.0,451.5 745.5,441.9 749.1,434.7 752.6,433.0 756.2,430.3 759.7,429.4 763.3,430.2 766.8,431.0 770.3,433.8 773.9,438.4 777.4,444.0 781.0,449.0 784.5,450.6 788.1,447.6 791.6,443.1 795.1,440.2 798.7,434.1 802.2,429.3 805.8,420.2 809.3,409.6 812.8,399.9 816.4,391.9 819.9,385.8 823.5,374.0 827.0,362.9 830.6,356.9 834.1,353.2 837.6,358.4 841.2,371.3 844.7,378.7 848.3,383.2 851.8,389.9 855.3,394.9 858.9,396.9 862.4,398.2 866.0,402.3 869.5,409.3 873.1,417.8 876.6,424.4 880.1,430.0 883.7,438.2 887.2,449.4 890.8,461.1 894.3,471.3 897.9,486.9 901.4,494.1 904.9,501.1 908.5,512.9 912.0,527.7 915.6,544.0 919.1,556.4 922.6,562.3 926.2,563.7 929.7,562.8 933.3,562.6 936.8,568.3 940.4,579.1 943.9,582.0 947.4,576.7 951.0,572.3 954.5,569.3 958.1,569.9 961.6,568.5 965.2,573.4 968.7,580.8 972.2,589.6 975.8,596.4 979.3,602.2 982.9,612.6 986.4,626.7 989.9,634.6 993.5,638.5 997.0,647.8 1000.6,651.1 1004.1,655.2 1007.7,661.6 1011.2,665.9 1014.7,671.9 1018.3,673.1 1021.8,668.8 1025.4,656.4 1028.9,648.4 1032.5,643.3 1036.0,641.8 1039.5,642.9 1043.1,644.4 1046.6,647.1 1050.2,652.9 1053.7,656.1 1057.2,661.3 1060.8,662.2 1064.3,657.3 1067.9,653.4 1071.4,651.5 1075.0,647.7 1078.5,641.9 1082.0,630.1 1085.6,619.8 1089.1,612.4 1092.7,609.3 1096.2,604.0 1099.7,592.3 1103.3,584.0 1106.8,576.0 1110.4,571.2 1113.9,567.8 1117.5,567.0 1121.0,569.4 1124.5,575.8 1128.1,579.7 1131.6,585.9 1135.2,600.5 1138.7,620.4 1142.3,632.8 1145.8,640.7 1149.3,645.2 1152.9,647.3 1156.4,646.9 1160.0,643.8 1163.5,643.3 1167.0,641.1 1170.6,638.0 1174.1,640.3 1177.7,644.8 1181.2,649.3 1184.8,654.5 1188.3,662.1 1191.8,662.9 1195.4,662.0 1198.9,657.3 1202.5,648.8 1206.0,632.3 1209.5,615.5 1213.1,599.6 1216.6,584.7 1220.2,571.4 1223.7,561.6 1227.3,551.9 1230.8,545.6 1234.3,541.7 1237.9,538.9 1241.4,538.6 1245.0,539.2 1248.5,539.8 1252.1,541.6 1255.6,544.0 1259.1,546.5 1262.7,547.8 1266.2,547.2 1269.8,549.0 1273.3,545.7 1276.8,543.0 1280.4,541.7 1283.9,541.8 1287.5,543.1 1291.0,546.6 1294.6,547.0 1298.1,547.6 1301.6,550.4 1305.2,549.4 1308.7,549.4 1312.3,549.5 1315.8,550.8 1319.4,550.3 1322.9,544.0 1326.4,540.7 1330.0,533.6 1333.5,528.9 1337.1,518.3 1340.6,509.5 1344.1,503.3 1347.7,499.5 1351.2,499.0 1354.8,495.5 1358.3,490.7 1361.9,481.2 1365.4,474.2 1368.9,467.1 1372.5,454.2 1376.0,441.8 1379.6,430.7 1383.1,421.6 1386.7,415.2 1390.2,412.0 1393.7,413.1 1397.3,406.3 1400.8,401.7 1404.4,398.4 1407.9,397.9 1411.4,400.1 1415.0,405.9 1418.5,406.2 1422.1,407.1 1425.6,405.7 1429.2,404.9 1432.7,405.5 1436.2,406.3 1439.8,408.7 1443.3,408.7 1446.9,410.4 1450.4,413.7 1453.9,418.2 1457.5,423.5 1461.0,430.6 1464.6,430.1 1468.1,427.0 1471.7,420.7 1475.2,417.2 1478.7,408.6 1482.3,393.0 1485.8,381.0 1489.4,375.4 1492.9,370.2 1496.5,365.7 1500.0,363.0 1503.5,365.6 1507.1,368.7 1510.6,376.2 1514.2,381.0 1517.7,383.4 1521.2,383.3 1524.8,380.5 1528.3,375.6 1531.9,373.8 1535.4,368.4 1539.0,368.0 1542.5,365.4 1546.0,371.6 1549.6,376.0 1553.1,379.1 1556.7,383.0 1560.2,386.1 1563.8,393.8 1567.3,398.8 1570.8,409.3 1574.4,423.3 1577.9,433.3 1581.5,446.7 1585.0,455.0 1588.5,458.9 1592.1,459.6 1595.6,458.6 1599.2,459.3 1602.7,456.8 1606.3,454.8 1609.8,454.9 1613.3,459.0 1616.9,459.6 1620.4,460.7 1624.0,470.5 1627.5,472.6 1631.0,483.1 1634.6,486.2 1638.1,497.3 1641.7,504.1 1645.2,506.5 1648.8,507.9 1652.3,507.4 1655.8,505.9 1659.4,503.3 1662.9,506.2 1666.5,505.8 1670.0,506.7 1673.6,505.7 1677.1,504.8 1680.6,505.4 1684.2,504.0 1687.7,505.6 1691.3,503.5 1694.8,503.0 1698.3,500.8 1701.9,503.9 1705.4,499.3 1709.0,496.1 1712.5,499.5 1716.1,501.4 1719.6,502.1 1723.1,502.7 1726.7,504.6 1730.2,507.0 1733.8,510.8 1737.3,521.0 1740.8,535.8 1744.4,553.0 1747.9,565.0 1751.5,570.6 1755.0,572.1 1758.6,579.2 1762.1,581.2 1765.6,590.1 1769.2,604.6 1772.7,621.2 1776.3,630.4 1779.8,637.5 1783.4,639.6 1786.9,637.1 1790.4,628.8 1794.0,624.8 1797.5,623.4 1801.1,616.9 1804.6,616.3 1808.1,616.6 1811.7,616.0 1815.2,616.9 1818.8,616.4 1822.3,614.5" />
<defs>
<linearGradient id="g0" gradientUnits="userSpaceOnUse" x1="229.7" y1="112.8" x2="1758" y2="300.9"><stop offset="0" stop-color="#ffb900" stop-opacity="0.06"/><stop offset="0.04" stop-color="#ffb900" stop-opacity="0.35"/><stop offset="0.1" stop-color="#ffb900" stop-opacity="0.75"/><stop offset="0.2" stop-color="#ffb900" stop-opacity="1"/></linearGradient>
<linearGradient id="g1" gradientUnits="userSpaceOnUse" x1="85" y1="327.7" x2="1786.1" y2="541.2"><stop offset="0" stop-color="#ffb900" stop-opacity="0.06"/><stop offset="0.04" stop-color="#ffb900" stop-opacity="0.35"/><stop offset="0.1" stop-color="#ffb900" stop-opacity="0.75"/><stop offset="0.2" stop-color="#ffb900" stop-opacity="1"/></linearGradient>
<linearGradient id="g2" gradientUnits="userSpaceOnUse" x1="212.3" y1="471.6" x2="1790.7" y2="700.9"><stop offset="0" stop-color="#ffb900" stop-opacity="0.06"/><stop offset="0.04" stop-color="#ffb900" stop-opacity="0.35"/><stop offset="0.1" stop-color="#ffb900" stop-opacity="0.75"/><stop offset="0.2" stop-color="#ffb900" stop-opacity="1"/></linearGradient>
</defs>
<polygon fill="url(#g0)" points="229.7,112.5 1747.0,296.4 1744.5,291.0 1758.0,300.9 1742.1,307.9 1746.2,302.6 229.7,113.1"/>
<polygon fill="url(#g1)" points="85.0,327.4 1775.1,536.4 1773.2,531.6 1786.1,541.2 1770.4,547.6 1774.3,543.1 85.0,328.0"/>
<polygon fill="url(#g2)" points="212.4,471.3 1779.8,695.9 1777.7,690.6 1790.7,700.9 1775.3,707.6 1778.8,702.6 212.2,471.9"/>
<path fill="#ff0000" d="M56.95 745.61h2.9v2.29h-2.9zM60.49 744.82h2.9v3.08h-2.9zM64.03 743.58h2.9v4.32h-2.9zM67.58 742.13h2.9v5.77h-2.9zM71.12 740.65h2.9v7.25h-2.9zM85.29 743.78h2.9v4.12h-2.9zM88.83 742.76h2.9v5.14h-2.9zM127.79 747.90h2.9v25.32h-2.9zM131.33 747.90h2.9v22.48h-2.9zM134.87 747.90h2.9v18.28h-2.9zM138.42 747.90h2.9v13.40h-2.9zM141.96 747.90h2.9v12.45h-2.9zM149.04 747.90h2.9v12.82h-2.9zM152.58 747.90h2.9v10.02h-2.9zM156.13 747.90h2.9v6.32h-2.9zM159.67 747.90h2.9v2.22h-2.9zM163.21 746.00h2.9v1.90h-2.9zM166.75 742.07h2.9v5.83h-2.9zM170.29 738.48h2.9v9.42h-2.9zM173.84 735.32h2.9v12.58h-2.9zM177.38 732.63h2.9v15.27h-2.9zM180.92 730.39h2.9v17.51h-2.9zM202.17 747.10h2.9v0.80h-2.9zM205.71 745.70h2.9v2.20h-2.9zM209.26 743.51h2.9v4.39h-2.9zM212.80 741.14h2.9v6.76h-2.9zM216.34 738.81h2.9v9.09h-2.9zM226.97 740.64h2.9v7.26h-2.9zM230.51 739.55h2.9v8.35h-2.9zM241.13 742.94h2.9v4.96h-2.9zM244.68 741.94h2.9v5.96h-2.9zM248.22 740.56h2.9v7.34h-2.9zM265.93 747.90h2.9v1.24h-2.9zM269.47 747.10h2.9v0.80h-2.9zM273.01 745.17h2.9v2.73h-2.9zM283.64 746.29h2.9v1.61h-2.9zM301.35 747.90h2.9v4.72h-2.9zM304.89 747.90h2.9v2.84h-2.9zM308.43 747.90h2.9v0.80h-2.9zM311.97 745.70h2.9v2.20h-2.9zM315.52 743.09h2.9v4.81h-2.9zM319.06 740.63h2.9v7.27h-2.9zM322.60 738.41h2.9v9.49h-2.9zM343.85 746.02h2.9v1.88h-2.9zM354.48 747.90h2.9v0.80h-2.9zM365.10 747.90h2.9v2.99h-2.9zM404.07 747.90h2.9v25.78h-2.9zM411.15 747.90h2.9v24.85h-2.9zM414.69 747.90h2.9v24.82h-2.9zM428.86 747.90h2.9v28.10h-2.9zM432.40 747.90h2.9v27.68h-2.9zM435.94 747.90h2.9v24.07h-2.9zM439.49 747.90h2.9v22.73h-2.9zM446.57 747.90h2.9v19.63h-2.9zM450.11 747.90h2.9v14.51h-2.9zM453.65 747.90h2.9v8.42h-2.9zM457.20 747.90h2.9v6.14h-2.9zM464.28 747.90h2.9v3.97h-2.9zM471.36 747.90h2.9v1.96h-2.9zM478.45 747.90h2.9v0.80h-2.9zM485.53 746.93h2.9v0.97h-2.9zM496.16 747.90h2.9v1.45h-2.9zM503.24 747.90h2.9v1.25h-2.9zM506.78 745.91h2.9v1.99h-2.9zM510.33 745.89h2.9v2.01h-2.9zM513.87 743.78h2.9v4.12h-2.9zM520.95 743.08h2.9v4.82h-2.9zM524.49 740.20h2.9v7.70h-2.9zM528.04 736.64h2.9v11.26h-2.9zM531.58 732.87h2.9v15.03h-2.9zM535.12 729.19h2.9v18.71h-2.9zM538.66 725.80h2.9v22.10h-2.9zM542.20 722.83h2.9v25.07h-2.9zM552.83 724.37h2.9v23.53h-2.9zM556.37 723.55h2.9v24.35h-2.9zM559.91 722.57h2.9v25.33h-2.9zM574.08 727.49h2.9v20.41h-2.9zM595.33 738.93h2.9v8.97h-2.9zM598.88 737.63h2.9v10.27h-2.9zM623.67 747.90h2.9v9.56h-2.9zM634.30 747.90h2.9v14.82h-2.9zM637.84 747.90h2.9v12.58h-2.9zM641.38 747.90h2.9v9.05h-2.9zM644.92 747.90h2.9v4.89h-2.9zM648.46 747.90h2.9v4.65h-2.9zM652.01 747.90h2.9v2.76h-2.9zM655.55 747.10h2.9v0.80h-2.9zM659.09 744.54h2.9v3.36h-2.9zM662.63 741.16h2.9v6.74h-2.9zM680.34 747.90h2.9v3.36h-2.9zM683.88 747.90h2.9v1.22h-2.9zM687.43 746.23h2.9v1.67h-2.9zM690.97 743.02h2.9v4.88h-2.9zM698.05 743.20h2.9v4.70h-2.9zM701.59 741.55h2.9v6.35h-2.9zM705.14 739.41h2.9v8.49h-2.9zM719.30 746.26h2.9v1.64h-2.9zM722.85 744.65h2.9v3.25h-2.9zM729.93 746.41h2.9v1.49h-2.9zM740.56 747.90h2.9v0.80h-2.9zM744.10 745.89h2.9v2.01h-2.9zM747.64 743.23h2.9v4.67h-2.9zM754.72 744.19h2.9v3.71h-2.9zM758.27 742.80h2.9v5.10h-2.9zM761.81 740.85h2.9v7.05h-2.9zM765.35 738.67h2.9v9.23h-2.9zM768.89 736.49h2.9v11.41h-2.9zM772.43 734.43h2.9v13.47h-2.9zM775.98 732.60h2.9v15.30h-2.9zM779.52 731.04h2.9v16.86h-2.9zM797.23 742.78h2.9v5.12h-2.9zM800.77 741.79h2.9v6.11h-2.9zM814.94 747.90h2.9v3.47h-2.9zM818.48 747.90h2.9v2.17h-2.9zM843.27 747.90h2.9v15.52h-2.9zM850.36 747.90h2.9v14.78h-2.9zM853.90 747.90h2.9v11.64h-2.9zM857.44 747.90h2.9v7.67h-2.9zM860.98 747.90h2.9v7.50h-2.9zM875.15 747.90h2.9v11.15h-2.9zM889.32 747.90h2.9v16.94h-2.9zM896.40 747.90h2.9v16.33h-2.9zM899.95 747.90h2.9v12.56h-2.9zM903.49 747.90h2.9v11.89h-2.9zM914.11 747.90h2.9v14.39h-2.9zM917.66 747.90h2.9v11.00h-2.9zM921.20 747.90h2.9v6.38h-2.9zM924.74 747.90h2.9v5.34h-2.9zM928.28 747.90h2.9v2.45h-2.9zM938.91 747.90h2.9v3.97h-2.9zM942.45 747.90h2.9v1.24h-2.9zM945.99 745.38h2.9v2.52h-2.9zM949.53 741.19h2.9v6.71h-2.9zM953.08 736.95h2.9v10.95h-2.9zM974.33 747.90h2.9v1.64h-2.9zM984.95 747.90h2.9v5.49h-2.9zM988.50 747.90h2.9v3.02h-2.9zM995.58 747.90h2.9v1.65h-2.9zM999.12 746.37h2.9v1.53h-2.9zM1006.21 744.91h2.9v2.99h-2.9zM1013.29 745.12h2.9v2.78h-2.9zM1016.83 742.68h2.9v5.22h-2.9zM1020.37 739.51h2.9v8.39h-2.9zM1023.92 736.07h2.9v11.83h-2.9zM1031.00 735.97h2.9v11.93h-2.9zM1034.54 734.27h2.9v13.63h-2.9zM1038.08 732.13h2.9v15.77h-2.9zM1041.63 729.87h2.9v18.03h-2.9zM1045.17 727.70h2.9v20.20h-2.9zM1048.71 725.73h2.9v22.17h-2.9zM1052.25 724.05h2.9v23.85h-2.9zM1069.96 735.78h2.9v12.12h-2.9zM1080.59 739.92h2.9v7.98h-2.9zM1084.13 738.86h2.9v9.04h-2.9zM1087.67 737.36h2.9v10.54h-2.9zM1098.30 740.05h2.9v7.85h-2.9zM1112.47 747.90h2.9v2.00h-2.9zM1140.80 747.90h2.9v18.97h-2.9zM1144.34 747.90h2.9v14.95h-2.9zM1147.89 747.90h2.9v10.12h-2.9zM1151.43 747.90h2.9v5.01h-2.9zM1154.97 747.10h2.9v0.80h-2.9zM1158.51 743.16h2.9v4.74h-2.9zM1162.05 738.90h2.9v9.00h-2.9zM1165.60 735.17h2.9v12.73h-2.9zM1169.14 732.00h2.9v15.90h-2.9zM1172.68 729.37h2.9v18.53h-2.9zM1176.22 727.28h2.9v20.62h-2.9zM1179.76 725.66h2.9v22.24h-2.9zM1183.31 724.49h2.9v23.41h-2.9zM1208.10 747.90h2.9v4.70h-2.9zM1211.64 747.90h2.9v3.18h-2.9zM1215.18 747.90h2.9v0.85h-2.9zM1218.73 746.03h2.9v1.87h-2.9zM1225.81 746.97h2.9v0.93h-2.9zM1236.44 747.90h2.9v1.15h-2.9zM1243.52 747.90h2.9v3.28h-2.9zM1257.69 747.90h2.9v9.73h-2.9zM1261.23 747.90h2.9v7.07h-2.9zM1268.31 747.90h2.9v6.52h-2.9zM1271.86 747.90h2.9v4.01h-2.9zM1275.40 747.90h2.9v0.85h-2.9zM1278.94 745.35h2.9v2.55h-2.9zM1282.48 741.98h2.9v5.92h-2.9zM1286.02 738.83h2.9v9.07h-2.9zM1293.11 740.00h2.9v7.90h-2.9zM1296.65 739.04h2.9v8.86h-2.9zM1307.28 742.00h2.9v5.90h-2.9zM1310.82 740.76h2.9v7.14h-2.9zM1314.36 739.13h2.9v8.77h-2.9zM1317.90 737.37h2.9v10.53h-2.9zM1321.44 735.64h2.9v12.26h-2.9zM1332.07 739.08h2.9v8.82h-2.9zM1335.61 738.42h2.9v9.48h-2.9zM1339.15 737.44h2.9v10.46h-2.9zM1342.70 736.33h2.9v11.57h-2.9zM1346.24 735.22h2.9v12.68h-2.9zM1378.12 747.90h2.9v8.10h-2.9zM1381.66 747.90h2.9v6.06h-2.9zM1385.20 747.90h2.9v3.42h-2.9zM1388.74 747.90h2.9v0.80h-2.9zM1402.91 747.90h2.9v5.68h-2.9zM1417.08 747.90h2.9v11.23h-2.9zM1420.62 747.90h2.9v8.59h-2.9zM1424.16 747.90h2.9v5.26h-2.9zM1427.70 747.90h2.9v1.68h-2.9zM1431.25 746.01h2.9v1.89h-2.9zM1434.79 742.65h2.9v5.25h-2.9zM1438.33 739.60h2.9v8.30h-2.9zM1441.87 736.93h2.9v10.97h-2.9zM1445.41 734.66h2.9v13.24h-2.9zM1448.96 732.79h2.9v15.11h-2.9zM1452.50 731.31h2.9v16.59h-2.9zM1456.04 730.18h2.9v17.72h-2.9zM1491.46 747.90h2.9v21.10h-2.9zM1495.00 747.90h2.9v18.31h-2.9zM1502.09 747.90h2.9v16.52h-2.9zM1509.17 747.90h2.9v15.52h-2.9zM1512.71 747.90h2.9v12.30h-2.9zM1516.25 747.90h2.9v8.29h-2.9zM1519.80 747.90h2.9v3.97h-2.9zM1523.34 747.10h2.9v0.80h-2.9zM1530.42 746.32h2.9v1.58h-2.9zM1548.13 747.90h2.9v9.40h-2.9zM1555.22 747.90h2.9v9.66h-2.9zM1562.30 747.90h2.9v9.81h-2.9zM1572.93 747.90h2.9v13.27h-2.9zM1580.01 747.90h2.9v13.14h-2.9zM1583.55 747.90h2.9v9.79h-2.9zM1587.09 747.90h2.9v5.46h-2.9zM1590.64 747.90h2.9v4.84h-2.9zM1594.18 747.90h2.9v2.46h-2.9zM1601.26 747.90h2.9v1.75h-2.9zM1604.80 746.89h2.9v1.01h-2.9zM1611.89 746.26h2.9v1.64h-2.9zM1629.60 747.90h2.9v5.19h-2.9zM1636.68 747.90h2.9v5.69h-2.9zM1640.22 747.90h2.9v2.85h-2.9zM1643.77 747.00h2.9v0.90h-2.9zM1647.31 742.87h2.9v5.03h-2.9zM1650.85 738.73h2.9v9.17h-2.9zM1654.39 734.83h2.9v13.07h-2.9zM1657.93 731.30h2.9v16.60h-2.9zM1672.10 737.41h2.9v10.49h-2.9zM1682.73 740.11h2.9v7.79h-2.9zM1703.98 747.90h2.9v2.68h-2.9zM1711.06 747.90h2.9v3.80h-2.9zM1714.61 747.90h2.9v1.60h-2.9zM1718.15 746.46h2.9v1.44h-2.9zM1746.48 747.90h2.9v11.61h-2.9zM1750.03 747.90h2.9v7.97h-2.9zM1753.57 747.90h2.9v7.66h-2.9zM1757.11 747.90h2.9v5.32h-2.9zM1771.28 747.90h2.9v11.50h-2.9zM1774.82 747.90h2.9v8.87h-2.9zM1778.36 747.90h2.9v4.91h-2.9zM1781.90 747.90h2.9v0.80h-2.9zM1785.45 743.41h2.9v4.49h-2.9zM1788.99 738.80h2.9v9.10h-2.9zM1792.53 738.65h2.9v9.25h-2.9zM1796.07 737.23h2.9v10.67h-2.9zM1799.61 735.11h2.9v12.79h-2.9zM1806.70 736.70h2.9v11.20h-2.9zM1810.24 735.51h2.9v12.39h-2.9zM1820.87 737.25h2.9v10.65h-2.9z"/>
<path fill="#00ffff" d="M74.66 743.35h2.9v4.55h-2.9zM78.20 744.42h2.9v3.48h-2.9zM81.74 744.43h2.9v3.47h-2.9zM92.37 745.69h2.9v2.21h-2.9zM95.91 747.90h2.9v3.04h-2.9zM99.45 747.90h2.9v5.36h-2.9zM103.00 747.90h2.9v9.81h-2.9zM106.54 747.90h2.9v15.35h-2.9zM110.08 747.90h2.9v17.13h-2.9zM113.62 747.90h2.9v20.53h-2.9zM117.16 747.90h2.9v20.62h-2.9zM120.71 747.90h2.9v22.68h-2.9zM124.25 747.90h2.9v25.83h-2.9zM145.50 747.90h2.9v13.97h-2.9zM184.46 732.72h2.9v15.18h-2.9zM188.00 737.83h2.9v10.07h-2.9zM191.55 744.42h2.9v3.48h-2.9zM195.09 747.10h2.9v0.80h-2.9zM198.63 747.90h2.9v0.80h-2.9zM219.88 740.75h2.9v7.15h-2.9zM223.42 741.18h2.9v6.72h-2.9zM234.05 742.30h2.9v5.60h-2.9zM237.59 743.22h2.9v4.68h-2.9zM251.76 743.14h2.9v4.76h-2.9zM255.30 747.90h2.9v0.80h-2.9zM258.84 747.90h2.9v2.23h-2.9zM262.39 747.90h2.9v2.35h-2.9zM276.55 747.03h2.9v0.87h-2.9zM280.10 747.10h2.9v0.80h-2.9zM287.18 747.90h2.9v0.98h-2.9zM290.72 747.90h2.9v1.51h-2.9zM294.26 747.90h2.9v4.83h-2.9zM297.81 747.90h2.9v5.60h-2.9zM326.14 740.60h2.9v7.30h-2.9zM329.68 741.34h2.9v6.56h-2.9zM333.23 745.26h2.9v2.64h-2.9zM336.77 746.86h2.9v1.04h-2.9zM340.31 746.92h2.9v0.98h-2.9zM347.39 747.90h2.9v0.80h-2.9zM350.94 747.90h2.9v1.42h-2.9zM358.02 747.90h2.9v3.41h-2.9zM361.56 747.90h2.9v3.90h-2.9zM368.65 747.90h2.9v5.36h-2.9zM372.19 747.90h2.9v5.54h-2.9zM375.73 747.90h2.9v8.43h-2.9zM379.27 747.90h2.9v8.74h-2.9zM382.81 747.90h2.9v11.51h-2.9zM386.36 747.90h2.9v15.65h-2.9zM389.90 747.90h2.9v16.28h-2.9zM393.44 747.90h2.9v18.76h-2.9zM396.98 747.90h2.9v22.22h-2.9zM400.52 747.90h2.9v26.06h-2.9zM407.61 747.90h2.9v26.97h-2.9zM418.23 747.90h2.9v26.05h-2.9zM421.78 747.90h2.9v27.95h-2.9zM425.32 747.90h2.9v30.09h-2.9zM443.03 747.90h2.9v22.82h-2.9zM460.74 747.90h2.9v6.35h-2.9zM467.82 747.90h2.9v4.22h-2.9zM474.91 747.90h2.9v2.36h-2.9zM481.99 747.90h2.9v0.90h-2.9zM489.07 747.10h2.9v0.80h-2.9zM492.62 747.90h2.9v2.25h-2.9zM499.70 747.90h2.9v2.78h-2.9zM517.41 744.59h2.9v3.31h-2.9zM545.75 724.44h2.9v23.46h-2.9zM549.29 724.79h2.9v23.11h-2.9zM563.46 725.73h2.9v22.17h-2.9zM567.00 727.24h2.9v20.66h-2.9zM570.54 727.69h2.9v20.21h-2.9zM577.62 731.07h2.9v16.83h-2.9zM581.17 732.74h2.9v15.16h-2.9zM584.71 737.29h2.9v10.61h-2.9zM588.25 739.30h2.9v8.60h-2.9zM591.79 739.64h2.9v8.26h-2.9zM602.42 740.15h2.9v7.75h-2.9zM605.96 740.85h2.9v7.05h-2.9zM609.50 744.50h2.9v3.40h-2.9zM613.04 747.90h2.9v1.91h-2.9zM616.59 747.90h2.9v7.99h-2.9zM620.13 747.90h2.9v10.09h-2.9zM627.21 747.90h2.9v11.51h-2.9zM630.75 747.90h2.9v14.88h-2.9zM666.17 742.03h2.9v5.87h-2.9zM669.72 745.53h2.9v2.37h-2.9zM673.26 747.90h2.9v2.60h-2.9zM676.80 747.90h2.9v4.11h-2.9zM694.51 743.90h2.9v4.00h-2.9zM708.68 741.21h2.9v6.69h-2.9zM712.22 745.39h2.9v2.51h-2.9zM715.76 746.75h2.9v1.15h-2.9zM726.39 746.53h2.9v1.37h-2.9zM733.47 747.90h2.9v1.24h-2.9zM737.01 747.90h2.9v1.50h-2.9zM751.18 744.55h2.9v3.35h-2.9zM783.06 733.88h2.9v14.02h-2.9zM786.60 739.37h2.9v8.53h-2.9zM790.14 742.13h2.9v5.77h-2.9zM793.69 743.05h2.9v4.85h-2.9zM804.31 744.53h2.9v3.37h-2.9zM807.85 747.90h2.9v1.57h-2.9zM811.40 747.90h2.9v3.52h-2.9zM822.02 747.90h2.9v4.27h-2.9zM825.56 747.90h2.9v8.37h-2.9zM829.11 747.90h2.9v9.38h-2.9zM832.65 747.90h2.9v12.50h-2.9zM836.19 747.90h2.9v16.74h-2.9zM839.73 747.90h2.9v17.31h-2.9zM846.82 747.90h2.9v16.41h-2.9zM864.53 747.90h2.9v9.70h-2.9zM868.07 747.90h2.9v13.25h-2.9zM871.61 747.90h2.9v13.31h-2.9zM878.69 747.90h2.9v11.80h-2.9zM882.24 747.90h2.9v14.16h-2.9zM885.78 747.90h2.9v17.43h-2.9zM892.86 747.90h2.9v18.20h-2.9zM907.03 747.90h2.9v13.16h-2.9zM910.57 747.90h2.9v15.56h-2.9zM931.82 747.90h2.9v2.68h-2.9zM935.37 747.90h2.9v4.84h-2.9zM956.62 737.04h2.9v10.86h-2.9zM960.16 739.88h2.9v8.02h-2.9zM963.70 744.30h2.9v3.60h-2.9zM967.24 747.90h2.9v1.59h-2.9zM970.79 747.90h2.9v2.88h-2.9zM977.87 747.90h2.9v2.99h-2.9zM981.41 747.90h2.9v5.90h-2.9zM992.04 747.90h2.9v3.49h-2.9zM1002.66 746.62h2.9v1.28h-2.9zM1009.75 746.17h2.9v1.73h-2.9zM1027.46 736.78h2.9v11.12h-2.9zM1055.79 726.80h2.9v21.10h-2.9zM1059.34 732.25h2.9v15.65h-2.9zM1062.88 735.01h2.9v12.89h-2.9zM1066.42 735.97h2.9v11.93h-2.9zM1073.50 739.03h2.9v8.87h-2.9zM1077.05 740.16h2.9v7.74h-2.9zM1091.21 739.80h2.9v8.10h-2.9zM1094.76 740.48h2.9v7.42h-2.9zM1101.84 743.07h2.9v4.83h-2.9zM1105.38 747.90h2.9v0.80h-2.9zM1108.92 747.90h2.9v2.13h-2.9zM1116.01 747.90h2.9v4.69h-2.9zM1119.55 747.90h2.9v9.01h-2.9zM1123.09 747.90h2.9v9.98h-2.9zM1126.63 747.90h2.9v12.89h-2.9zM1130.18 747.90h2.9v16.84h-2.9zM1133.72 747.90h2.9v21.19h-2.9zM1137.26 747.90h2.9v21.41h-2.9zM1186.85 727.83h2.9v20.07h-2.9zM1190.39 733.86h2.9v14.04h-2.9zM1193.93 741.29h2.9v6.61h-2.9zM1197.47 745.12h2.9v2.78h-2.9zM1201.02 747.90h2.9v2.71h-2.9zM1204.56 747.90h2.9v4.82h-2.9zM1222.27 747.10h2.9v0.80h-2.9zM1229.35 747.90h2.9v1.81h-2.9zM1232.89 747.90h2.9v2.22h-2.9zM1239.98 747.90h2.9v3.32h-2.9zM1247.06 747.90h2.9v5.97h-2.9zM1250.60 747.90h2.9v10.21h-2.9zM1254.15 747.90h2.9v11.07h-2.9zM1264.77 747.90h2.9v7.82h-2.9zM1289.57 740.10h2.9v7.80h-2.9zM1300.19 741.75h2.9v6.15h-2.9zM1303.73 742.50h2.9v5.40h-2.9zM1324.99 738.16h2.9v9.74h-2.9zM1328.53 739.12h2.9v8.78h-2.9zM1349.78 738.32h2.9v9.58h-2.9zM1353.32 743.92h2.9v3.98h-2.9zM1356.86 746.68h2.9v1.22h-2.9zM1360.41 747.10h2.9v0.80h-2.9zM1363.95 747.90h2.9v3.32h-2.9zM1367.49 747.90h2.9v4.51h-2.9zM1371.03 747.90h2.9v8.17h-2.9zM1374.57 747.90h2.9v9.04h-2.9zM1392.28 747.90h2.9v1.76h-2.9zM1395.83 747.90h2.9v5.50h-2.9zM1399.37 747.90h2.9v6.49h-2.9zM1406.45 747.90h2.9v7.90h-2.9zM1409.99 747.90h2.9v11.88h-2.9zM1413.54 747.90h2.9v12.61h-2.9zM1459.58 733.49h2.9v14.41h-2.9zM1463.12 735.32h2.9v12.58h-2.9zM1466.67 740.28h2.9v7.62h-2.9zM1470.21 742.84h2.9v5.06h-2.9zM1473.75 747.10h2.9v0.80h-2.9zM1477.29 747.90h2.9v6.33h-2.9zM1480.83 747.90h2.9v13.14h-2.9zM1484.38 747.90h2.9v19.85h-2.9zM1487.92 747.90h2.9v21.99h-2.9zM1498.54 747.90h2.9v18.55h-2.9zM1505.63 747.90h2.9v17.25h-2.9zM1526.88 747.10h2.9v0.80h-2.9zM1533.96 747.90h2.9v0.80h-2.9zM1537.51 747.90h2.9v4.39h-2.9zM1541.05 747.90h2.9v9.38h-2.9zM1544.59 747.90h2.9v10.62h-2.9zM1551.67 747.90h2.9v10.81h-2.9zM1558.76 747.90h2.9v11.04h-2.9zM1565.84 747.90h2.9v11.10h-2.9zM1569.38 747.90h2.9v13.87h-2.9zM1576.47 747.90h2.9v14.69h-2.9zM1597.72 747.90h2.9v3.21h-2.9zM1608.35 747.10h2.9v0.80h-2.9zM1615.43 747.10h2.9v0.80h-2.9zM1618.97 747.90h2.9v3.38h-2.9zM1622.51 747.90h2.9v3.57h-2.9zM1626.06 747.90h2.9v5.85h-2.9zM1633.14 747.90h2.9v6.83h-2.9zM1661.48 732.35h2.9v15.55h-2.9zM1665.02 736.25h2.9v11.65h-2.9zM1668.56 737.64h2.9v10.26h-2.9zM1675.64 740.32h2.9v7.58h-2.9zM1679.19 740.94h2.9v6.96h-2.9zM1686.27 742.55h2.9v5.35h-2.9zM1689.81 742.81h2.9v5.09h-2.9zM1693.35 745.81h2.9v2.09h-2.9zM1696.90 747.90h2.9v2.48h-2.9zM1700.44 747.90h2.9v3.67h-2.9zM1707.52 747.90h2.9v4.47h-2.9zM1721.69 747.10h2.9v0.80h-2.9zM1725.23 747.90h2.9v2.29h-2.9zM1728.77 747.90h2.9v2.49h-2.9zM1732.32 747.90h2.9v5.01h-2.9zM1735.86 747.90h2.9v8.85h-2.9zM1739.40 747.90h2.9v13.29h-2.9zM1742.94 747.90h2.9v13.73h-2.9zM1760.65 747.90h2.9v5.94h-2.9zM1764.19 747.90h2.9v8.37h-2.9zM1767.74 747.90h2.9v11.79h-2.9zM1803.16 736.80h2.9v11.10h-2.9zM1813.78 737.84h2.9v10.06h-2.9zM1817.32 738.17h2.9v9.73h-2.9z"/>
<polyline fill="none" stroke="#00c000" stroke-width="1.05" stroke-linejoin="round" points="54.9,693.3 58.4,692.8 61.9,692.0 65.5,690.9 69.0,689.5 72.6,687.6 76.1,686.5 79.7,685.6 83.2,684.8 86.7,683.7 90.3,682.5 93.8,681.9 97.4,682.7 100.9,684.0 104.4,686.5 108.0,690.3 111.5,694.6 115.1,699.7 118.6,704.9 122.2,710.5 125.7,717.0 129.2,723.3 132.8,728.9 136.3,733.5 139.9,736.9 143.4,740.0 146.9,743.5 150.5,746.7 154.0,749.2 157.6,750.8 161.1,751.3 164.7,750.8 168.2,749.4 171.7,747.0 175.3,743.9 178.8,740.1 182.4,735.7 185.9,731.9 189.5,729.4 193.0,728.5 196.5,728.4 200.1,728.5 203.6,728.4 207.2,727.8 210.7,726.7 214.2,725.0 217.8,722.8 221.3,721.0 224.9,719.3 228.4,717.5 232.0,715.4 235.5,714.0 239.0,712.8 242.6,711.6 246.1,710.1 249.7,708.2 253.2,707.1 256.8,707.1 260.3,707.7 263.8,708.2 267.4,708.6 270.9,708.4 274.5,707.7 278.0,707.5 281.5,707.3 285.1,706.9 288.6,707.2 292.2,707.6 295.7,708.8 299.3,710.2 302.8,711.4 306.3,712.1 309.9,712.2 313.4,711.6 317.0,710.4 320.5,708.6 324.0,706.2 327.6,704.4 331.1,702.8 334.7,702.1 338.2,701.8 341.8,701.6 345.3,701.1 348.8,701.3 352.4,701.7 355.9,701.9 359.5,702.7 363.0,703.7 366.6,704.4 370.1,705.8 373.6,707.2 377.2,709.3 380.7,711.5 384.3,714.3 387.8,718.2 391.3,722.3 394.9,727.0 398.4,732.6 402.0,739.1 405.5,745.5 409.1,752.3 412.6,758.5 416.1,764.7 419.7,771.2 423.2,778.2 426.8,785.7 430.3,792.7 433.9,799.6 437.4,805.7 440.9,811.3 444.5,817.0 448.0,822.0 451.6,825.6 455.1,827.7 458.6,829.2 462.2,830.8 465.7,831.8 469.3,832.9 472.8,833.4 476.4,833.9 479.9,834.0 483.4,834.2 487.0,834.0 490.5,834.0 494.1,834.5 497.6,834.9 501.1,835.6 504.7,835.9 508.2,835.4 511.8,834.9 515.3,833.9 518.9,833.0 522.4,831.8 525.9,829.9 529.5,827.1 533.0,823.3 536.6,818.6 540.1,813.1 543.7,806.8 547.2,801.0 550.7,795.2 554.3,789.3 557.8,783.2 561.4,776.9 564.9,771.4 568.4,766.2 572.0,761.1 575.5,756.0 579.1,751.8 582.6,748.0 586.2,745.4 589.7,743.2 593.2,741.2 596.8,738.9 600.3,736.4 603.9,734.4 607.4,732.7 611.0,731.8 614.5,732.3 618.0,734.3 621.6,736.8 625.1,739.2 628.7,742.1 632.2,745.8 635.7,749.5 639.3,752.7 642.8,754.9 646.4,756.1 649.9,757.3 653.5,758.0 657.0,758.0 660.5,757.1 664.1,755.4 667.6,754.0 671.2,753.4 674.7,754.0 678.2,755.1 681.8,755.9 685.3,756.2 688.9,755.8 692.4,754.6 696.0,753.6 699.5,752.4 703.0,750.8 706.6,748.7 710.1,747.0 713.7,746.4 717.2,746.1 720.8,745.7 724.3,744.9 727.8,744.5 731.4,744.2 734.9,744.5 738.5,744.9 742.0,744.9 745.5,744.4 749.1,743.2 752.6,742.4 756.2,741.5 759.7,740.2 763.3,738.4 766.8,736.1 770.3,733.3 773.9,729.9 777.4,726.1 781.0,721.9 784.5,718.4 788.1,716.2 791.6,714.8 795.1,713.6 798.7,712.3 802.2,710.8 805.8,709.9 809.3,710.3 812.8,711.2 816.4,712.1 819.9,712.6 823.5,713.7 827.0,715.8 830.6,718.1 834.1,721.2 837.6,725.4 841.2,729.8 844.7,733.6 848.3,737.7 851.8,741.4 855.3,744.3 858.9,746.3 862.4,748.1 866.0,750.6 869.5,753.9 873.1,757.2 876.6,760.0 880.1,762.9 883.7,766.5 887.2,770.8 890.8,775.1 894.3,779.6 897.9,783.7 901.4,786.8 904.9,789.8 908.5,793.1 912.0,797.0 915.6,800.6 919.1,803.3 922.6,804.9 926.2,806.3 929.7,806.9 933.3,807.6 936.8,808.8 940.4,809.8 943.9,810.1 947.4,809.4 951.0,807.8 954.5,805.0 958.1,802.3 961.6,800.3 965.2,799.4 968.7,799.8 972.2,800.5 975.8,800.9 979.3,801.7 982.9,803.2 986.4,804.5 989.9,805.3 993.5,806.2 997.0,806.6 1000.6,806.2 1004.1,805.9 1007.7,805.1 1011.2,804.7 1014.7,804.0 1018.3,802.7 1021.8,800.6 1025.4,797.6 1028.9,794.8 1032.5,791.9 1036.0,788.5 1039.5,784.5 1043.1,780.0 1046.6,775.0 1050.2,769.4 1053.7,763.4 1057.2,758.2 1060.8,754.3 1064.3,751.0 1067.9,748.1 1071.4,745.0 1075.0,742.8 1078.5,740.9 1082.0,738.9 1085.6,736.6 1089.1,734.0 1092.7,732.0 1096.2,730.1 1099.7,728.1 1103.3,726.9 1106.8,727.0 1110.4,727.5 1113.9,728.0 1117.5,729.2 1121.0,731.4 1124.5,733.9 1128.1,737.2 1131.6,741.4 1135.2,746.7 1138.7,752.0 1142.3,756.8 1145.8,760.5 1149.3,763.0 1152.9,764.3 1156.4,764.3 1160.0,763.1 1163.5,760.8 1167.0,757.7 1170.6,753.7 1174.1,749.1 1177.7,743.9 1181.2,738.3 1184.8,732.5 1188.3,727.5 1191.8,724.0 1195.4,722.3 1198.9,721.6 1202.5,722.3 1206.0,723.5 1209.5,724.7 1213.1,725.5 1216.6,725.7 1220.2,725.2 1223.7,725.1 1227.3,724.8 1230.8,725.3 1234.3,725.8 1237.9,726.1 1241.4,727.0 1245.0,727.8 1248.5,729.3 1252.1,731.8 1255.6,734.6 1259.1,737.0 1262.7,738.8 1266.2,740.7 1269.8,742.4 1273.3,743.4 1276.8,743.6 1280.4,743.0 1283.9,741.5 1287.5,739.2 1291.0,737.3 1294.6,735.3 1298.1,733.1 1301.6,731.5 1305.2,730.2 1308.7,728.7 1312.3,726.9 1315.8,724.7 1319.4,722.1 1322.9,719.0 1326.4,716.6 1330.0,714.4 1333.5,712.2 1337.1,709.8 1340.6,707.2 1344.1,704.3 1347.7,701.1 1351.2,698.8 1354.8,697.8 1358.3,697.5 1361.9,697.4 1365.4,698.2 1368.9,699.3 1372.5,701.4 1376.0,703.6 1379.6,705.6 1383.1,707.2 1386.7,708.0 1390.2,708.1 1393.7,708.6 1397.3,710.0 1400.8,711.6 1404.4,713.0 1407.9,715.0 1411.4,717.9 1415.0,721.1 1418.5,723.9 1422.1,726.0 1425.6,727.4 1429.2,727.8 1432.7,727.3 1436.2,726.0 1439.8,723.9 1443.3,721.2 1446.9,717.9 1450.4,714.1 1453.9,709.9 1457.5,705.5 1461.0,701.9 1464.6,698.8 1468.1,696.9 1471.7,695.6 1475.2,695.6 1478.7,697.2 1482.3,700.5 1485.8,705.4 1489.4,710.9 1492.9,716.2 1496.5,720.8 1500.0,725.4 1503.5,729.5 1507.1,733.9 1510.6,737.7 1514.2,740.8 1517.7,742.9 1521.2,743.9 1524.8,743.8 1528.3,743.7 1531.9,743.3 1535.4,743.4 1539.0,744.5 1542.5,746.9 1546.0,749.5 1549.6,751.9 1553.1,754.6 1556.7,757.0 1560.2,759.8 1563.8,762.2 1567.3,765.0 1570.8,768.5 1574.4,771.8 1577.9,775.4 1581.5,778.7 1585.0,781.2 1588.5,782.5 1592.1,783.8 1595.6,784.4 1599.2,785.2 1602.7,785.6 1606.3,785.4 1609.8,785.3 1613.3,784.9 1616.9,784.9 1620.4,785.7 1624.0,786.6 1627.5,788.1 1631.0,789.4 1634.6,791.1 1638.1,792.5 1641.7,793.2 1645.2,793.0 1648.8,791.7 1652.3,789.4 1655.8,786.2 1659.4,782.0 1662.9,778.1 1666.5,775.2 1670.0,772.6 1673.6,770.0 1677.1,768.1 1680.6,766.4 1684.2,764.4 1687.7,763.1 1691.3,761.8 1694.8,761.3 1698.3,761.9 1701.9,762.8 1705.4,763.5 1709.0,764.6 1712.5,765.6 1716.1,766.0 1719.6,765.6 1723.1,765.4 1726.7,766.0 1730.2,766.6 1733.8,767.9 1737.3,770.1 1740.8,773.4 1744.4,776.9 1747.9,779.8 1751.5,781.7 1755.0,783.7 1758.6,785.0 1762.1,786.5 1765.6,788.6 1769.2,791.5 1772.7,794.4 1776.3,796.6 1779.8,797.8 1783.4,797.9 1786.9,796.8 1790.4,794.5 1794.0,792.2 1797.5,789.5 1801.1,786.3 1804.6,783.6 1808.1,780.8 1811.7,777.7 1815.2,775.1 1818.8,772.7 1822.3,770.1" />
<polyline fill="none" stroke="#cccccc" stroke-width="1.05" stroke-linejoin="round" points="54.9,691.0 58.4,690.5 61.9,688.9 65.5,686.6 69.0,683.7 72.6,680.4 76.1,682.0 79.7,682.2 83.2,681.3 86.7,679.6 90.3,677.3 93.8,679.7 97.4,685.7 100.9,689.4 104.4,696.3 108.0,705.6 111.5,711.7 115.1,720.2 118.6,725.5 122.2,733.2 125.7,742.8 129.2,748.6 132.8,751.4 136.3,751.8 139.9,750.3 143.4,752.4 146.9,757.4 150.5,759.5 154.0,759.2 157.6,757.1 161.1,753.5 164.7,748.9 168.2,743.5 171.7,737.6 175.3,731.3 178.8,724.8 182.4,718.2 185.9,716.7 189.5,719.3 193.0,725.0 196.5,728.0 200.1,728.8 203.6,727.9 207.2,725.6 210.7,722.3 214.2,718.3 217.8,713.7 221.3,713.8 224.9,712.6 228.4,710.2 232.0,707.0 235.5,708.4 239.0,708.1 242.6,706.6 246.1,704.1 249.7,700.9 253.2,702.3 256.8,707.3 260.3,709.9 263.8,710.6 267.4,709.8 270.9,707.9 274.5,705.0 278.0,706.6 281.5,706.6 285.1,705.3 288.6,708.2 292.2,709.1 295.7,713.6 299.3,715.8 302.8,716.1 306.3,714.9 309.9,712.6 313.4,709.4 317.0,705.6 320.5,701.3 324.0,696.7 327.6,697.1 331.1,696.2 334.7,699.5 338.2,700.8 341.8,700.6 345.3,699.2 348.8,702.1 352.4,703.1 355.9,702.6 359.5,706.1 363.0,707.6 366.6,707.4 370.1,711.1 373.6,712.7 377.2,717.7 380.7,720.2 384.3,725.8 387.8,733.9 391.3,738.6 394.9,745.8 398.4,754.8 402.0,765.1 405.5,771.3 409.1,779.2 412.6,783.3 416.1,789.5 419.7,797.2 423.2,806.1 426.8,815.8 430.3,820.8 433.9,827.3 437.4,829.7 440.9,834.1 444.5,839.9 448.0,841.6 451.6,840.1 455.1,836.1 458.6,835.4 462.2,837.2 465.7,835.8 469.3,837.1 472.8,835.3 476.4,836.3 479.9,834.3 483.4,835.1 487.0,833.0 490.5,833.8 494.1,836.8 497.6,836.3 501.1,838.3 504.7,837.1 508.2,833.4 511.8,832.9 515.3,829.7 518.9,829.7 522.4,827.0 525.9,822.2 529.5,815.8 533.0,808.3 536.6,799.9 540.1,791.0 543.7,781.8 547.2,777.5 550.7,772.1 554.3,765.8 557.8,758.9 561.4,751.6 564.9,749.2 568.4,745.5 572.0,740.9 575.5,735.6 579.1,735.0 582.6,732.9 586.2,734.8 589.7,734.6 593.2,732.9 596.8,730.0 600.3,726.1 603.9,726.7 607.4,725.6 611.0,728.4 614.5,734.2 618.0,742.3 621.6,746.9 625.1,748.8 628.7,753.6 632.2,760.7 635.7,764.3 639.3,765.2 642.8,764.0 646.4,761.0 649.9,762.0 653.5,760.8 657.0,757.9 660.5,753.8 664.1,748.7 667.6,748.1 671.2,751.0 674.7,756.6 678.2,759.2 681.8,759.3 685.3,757.4 688.9,754.1 692.4,749.7 696.0,749.6 699.5,747.7 703.0,744.5 706.6,740.2 710.1,740.3 713.7,743.9 717.2,745.0 720.8,744.1 724.3,741.6 727.8,743.2 731.4,742.7 734.9,745.7 738.5,746.4 742.0,745.1 745.5,742.4 749.1,738.6 752.6,739.0 756.2,737.8 759.7,735.1 763.3,731.4 766.8,726.9 770.3,721.9 773.9,716.4 777.4,710.8 781.0,705.0 784.5,704.3 788.1,707.7 791.6,709.0 795.1,708.7 798.7,707.2 802.2,704.7 805.8,706.6 809.3,711.9 812.8,714.7 816.4,715.5 819.9,714.8 823.5,717.9 827.0,724.1 830.6,727.5 834.1,733.7 837.6,742.2 841.2,747.1 844.7,749.1 848.3,754.1 851.8,756.2 855.3,756.0 858.9,753.9 862.4,755.6 866.0,760.3 869.5,767.1 873.1,770.5 876.6,771.1 880.1,774.7 883.7,780.6 887.2,788.3 890.8,792.0 894.3,797.8 897.9,800.0 901.4,799.4 904.9,801.7 908.5,806.3 912.0,812.6 915.6,815.0 919.1,814.3 922.6,811.3 926.2,811.6 929.7,809.3 933.3,810.2 936.8,813.6 940.4,813.7 943.9,811.3 947.4,806.9 951.0,801.0 954.5,794.1 958.1,791.5 961.6,792.3 965.2,795.8 968.7,801.4 972.2,803.4 975.8,802.6 979.3,804.7 982.9,809.0 986.4,810.0 989.9,808.3 993.5,809.6 997.0,808.2 1000.6,804.6 1004.1,804.6 1007.7,802.1 1011.2,802.9 1014.7,801.2 1018.3,797.5 1021.8,792.2 1025.4,785.8 1028.9,783.7 1032.5,779.9 1036.0,774.8 1039.5,768.7 1043.1,762.0 1046.6,754.8 1050.2,747.2 1053.7,739.6 1057.2,737.1 1060.8,738.6 1064.3,738.1 1067.9,736.1 1071.4,732.9 1075.0,733.9 1078.5,733.1 1082.0,730.9 1085.6,727.6 1089.1,723.4 1092.7,723.9 1096.2,722.7 1099.7,720.3 1103.3,722.1 1106.8,727.2 1110.4,729.7 1113.9,730.0 1117.5,733.9 1121.0,740.5 1124.5,743.9 1128.1,750.0 1131.6,758.2 1135.2,767.9 1138.7,773.4 1142.3,775.7 1145.8,775.5 1149.3,773.1 1152.9,769.3 1156.4,764.3 1160.0,758.4 1163.5,751.8 1167.0,744.9 1170.6,737.8 1174.1,730.5 1177.7,723.3 1181.2,716.1 1184.8,709.1 1188.3,707.4 1191.8,709.9 1195.4,715.7 1198.9,718.8 1202.5,725.0 1206.0,728.3 1209.5,729.4 1213.1,728.6 1216.6,726.5 1220.2,723.3 1223.7,724.5 1227.3,723.9 1230.8,727.1 1234.3,728.1 1237.9,727.3 1241.4,730.3 1245.0,731.1 1248.5,735.2 1252.1,742.0 1255.6,745.7 1259.1,746.8 1262.7,745.9 1266.2,748.6 1269.8,748.9 1273.3,747.4 1276.8,744.4 1280.4,740.4 1283.9,735.6 1287.5,730.1 1291.0,729.5 1294.6,727.4 1298.1,724.2 1301.6,725.4 1305.2,724.8 1308.7,722.8 1312.3,719.8 1315.8,716.0 1319.4,711.6 1322.9,706.8 1326.4,706.9 1330.0,705.6 1333.5,703.4 1337.1,700.3 1340.6,696.7 1344.1,692.7 1347.7,688.5 1351.2,689.2 1354.8,693.8 1358.3,696.2 1361.9,697.0 1365.4,701.5 1368.9,703.8 1372.5,709.5 1376.0,712.7 1379.6,713.7 1383.1,713.2 1386.7,711.4 1390.2,708.7 1393.7,710.3 1397.3,715.5 1400.8,718.1 1404.4,718.7 1407.9,722.9 1411.4,729.8 1415.0,733.7 1418.5,735.1 1422.1,734.6 1425.6,732.6 1429.2,729.5 1432.7,725.4 1436.2,720.7 1439.8,715.6 1443.3,710.2 1446.9,704.6 1450.4,699.0 1453.9,693.3 1457.5,687.8 1461.0,687.5 1464.6,686.2 1468.1,689.2 1471.7,690.5 1475.2,695.6 1478.7,703.5 1482.3,713.6 1485.8,725.3 1489.4,732.9 1492.9,737.3 1496.5,739.1 1500.0,744.0 1503.5,746.1 1507.1,751.1 1510.6,753.3 1514.2,753.1 1517.7,751.2 1521.2,747.8 1524.8,743.5 1528.3,743.5 1531.9,741.7 1535.4,743.9 1539.0,748.9 1542.5,756.3 1546.0,760.1 1549.6,761.3 1553.1,765.4 1556.7,766.7 1560.2,770.8 1563.8,772.0 1567.3,776.1 1570.8,782.3 1574.4,785.0 1577.9,790.1 1581.5,791.9 1585.0,791.0 1588.5,788.0 1592.1,788.6 1595.6,786.8 1599.2,788.4 1602.7,787.4 1606.3,784.3 1609.8,784.9 1613.3,783.2 1616.9,784.9 1620.4,789.1 1624.0,790.2 1627.5,793.9 1631.0,794.5 1634.6,797.9 1638.1,798.2 1641.7,796.1 1645.2,792.1 1648.8,786.7 1652.3,780.3 1655.8,773.1 1659.4,765.4 1662.9,762.6 1666.5,763.6 1670.0,762.4 1673.6,759.5 1677.1,760.5 1680.6,759.4 1684.2,756.6 1687.7,757.8 1691.3,756.7 1694.8,759.2 1698.3,764.4 1701.9,766.5 1705.4,766.2 1709.0,769.1 1712.5,769.4 1716.1,767.6 1719.6,764.2 1723.1,764.7 1726.7,768.3 1730.2,769.1 1733.8,772.9 1737.3,778.9 1740.8,786.7 1744.4,790.6 1747.9,791.4 1751.5,789.7 1755.0,791.3 1758.6,790.3 1762.1,792.4 1765.6,796.9 1769.2,803.3 1772.7,805.9 1776.3,805.5 1779.8,802.7 1783.4,798.2 1786.9,792.3 1790.4,785.4 1794.0,783.0 1797.5,778.9 1801.1,773.5 1804.6,772.5 1808.1,769.6 1811.7,765.3 1815.2,765.1 1818.8,763.0 1822.3,759.4" />
<rect x="52.2" y="39" width="1.7" height="812" fill="#cc0000"/>
<rect x="52.1" y="848.9" width="1773" height="2.0" fill="#b40000"/>
<rect x="47" y="48.9" width="5.2" height="1.4" fill="#f2f200"/>
<rect x="48.5" y="70.0" width="3.7" height="1.4" fill="#f2f200"/>
<text x="26.7 34.4" y="54.0" fill="#f2f200" font-size="13" font-family="Liberation Sans, sans-serif">11</text>
<rect x="47" y="91.1" width="5.2" height="1.4" fill="#f2f200"/>
<rect x="48.5" y="112.3" width="3.7" height="1.4" fill="#f2f200"/>
<text x="26.7 34.4" y="96.2" fill="#f2f200" font-size="13" font-family="Liberation Sans, sans-serif">10</text>
<rect x="47" y="133.4" width="5.2" height="1.4" fill="#f2f200"/>
<rect x="48.5" y="154.5" width="3.7" height="1.4" fill="#f2f200"/>
<text x="34.4" y="138.3" fill="#f2f200" font-size="13" font-family="Liberation Sans, sans-serif">9</text>
<rect x="47" y="175.6" width="5.2" height="1.4" fill="#f2f200"/>
<rect x="48.5" y="196.7" width="3.7" height="1.4" fill="#f2f200"/>
<text x="34.4" y="180.5" fill="#f2f200" font-size="13" font-family="Liberation Sans, sans-serif">8</text>
<rect x="47" y="217.9" width="5.2" height="1.4" fill="#f2f200"/>
<rect x="48.5" y="239.0" width="3.7" height="1.4" fill="#f2f200"/>
<text x="34.4" y="222.6" fill="#f2f200" font-size="13" font-family="Liberation Sans, sans-serif">7</text>
<rect x="47" y="260.1" width="5.2" height="1.4" fill="#f2f200"/>
<rect x="48.5" y="281.2" width="3.7" height="1.4" fill="#f2f200"/>
<text x="34.4" y="264.8" fill="#f2f200" font-size="13" font-family="Liberation Sans, sans-serif">6</text>
<rect x="47" y="302.3" width="5.2" height="1.4" fill="#f2f200"/>
<rect x="48.5" y="323.5" width="3.7" height="1.4" fill="#f2f200"/>
<text x="34.4" y="306.9" fill="#f2f200" font-size="13" font-family="Liberation Sans, sans-serif">5</text>
<rect x="47" y="344.6" width="5.2" height="1.4" fill="#f2f200"/>
<rect x="48.5" y="365.7" width="3.7" height="1.4" fill="#f2f200"/>
<text x="34.4" y="349.1" fill="#f2f200" font-size="13" font-family="Liberation Sans, sans-serif">4</text>
<rect x="47" y="386.8" width="5.2" height="1.4" fill="#f2f200"/>
<rect x="48.5" y="407.9" width="3.7" height="1.4" fill="#f2f200"/>
<text x="34.4" y="391.2" fill="#f2f200" font-size="13" font-family="Liberation Sans, sans-serif">3</text>
<rect x="47" y="429.1" width="5.2" height="1.4" fill="#f2f200"/>
<rect x="48.5" y="450.2" width="3.7" height="1.4" fill="#f2f200"/>
<text x="34.4" y="433.4" fill="#f2f200" font-size="13" font-family="Liberation Sans, sans-serif">2</text>
<rect x="47" y="471.3" width="5.2" height="1.4" fill="#f2f200"/>
<rect x="48.5" y="492.4" width="3.7" height="1.4" fill="#f2f200"/>
<text x="34.4" y="475.5" fill="#f2f200" font-size="13" font-family="Liberation Sans, sans-serif">0</text>
<rect x="47" y="513.5" width="5.2" height="1.4" fill="#f2f200"/>
<rect x="48.5" y="534.7" width="3.7" height="1.4" fill="#f2f200"/>
<text x="34.4" y="517.7" fill="#f2f200" font-size="13" font-family="Liberation Sans, sans-serif">2</text><rect x="27.3" y="511.2" width="7.6" height="1.3" fill="#f2f200"/>
<rect x="47" y="555.8" width="5.2" height="1.4" fill="#f2f200"/>
<rect x="48.5" y="576.9" width="3.7" height="1.4" fill="#f2f200"/>
<text x="34.4" y="559.9" fill="#f2f200" font-size="13" font-family="Liberation Sans, sans-serif">3</text><rect x="27.3" y="553.4" width="7.6" height="1.3" fill="#f2f200"/>
<rect x="47" y="598.0" width="5.2" height="1.4" fill="#f2f200"/>
<rect x="48.5" y="619.1" width="3.7" height="1.4" fill="#f2f200"/>
<text x="34.4" y="602.0" fill="#f2f200" font-size="13" font-family="Liberation Sans, sans-serif">4</text><rect x="27.3" y="595.5" width="7.6" height="1.3" fill="#f2f200"/>
<rect x="47" y="640.3" width="5.2" height="1.4" fill="#f2f200"/>
<rect x="48.5" y="661.4" width="3.7" height="1.4" fill="#f2f200"/>
<text x="34.4" y="644.2" fill="#f2f200" font-size="13" font-family="Liberation Sans, sans-serif">5</text><rect x="27.3" y="637.7" width="7.6" height="1.3" fill="#f2f200"/>
<rect x="47" y="704.1" width="5.2" height="1.4" fill="#e000e0"/>
<rect x="48.5" y="725.3" width="3.7" height="1.4" fill="#e000e0"/>
<text x="18.7 28.2 34.1" y="709.1" fill="#e000e0" font-size="13" font-family="Liberation Sans, sans-serif">0.6</text>
<rect x="47" y="746.6" width="5.2" height="1.4" fill="#e000e0"/>
<rect x="48.5" y="767.8" width="3.7" height="1.4" fill="#e000e0"/>
<text x="34.1" y="751.6" fill="#e000e0" font-size="13" font-family="Liberation Sans, sans-serif">0</text>
<rect x="47" y="789.0" width="5.2" height="1.4" fill="#e000e0"/>
<rect x="48.5" y="810.3" width="3.7" height="1.4" fill="#e000e0"/>
<text x="18.7 28.2 34.1" y="794.0" fill="#e000e0" font-size="13" font-family="Liberation Sans, sans-serif">0.6</text><rect x="11.6" y="787.5" width="7.6" height="1.3" fill="#e000e0"/>
<rect x="47" y="831.5" width="5.2" height="1.4" fill="#e000e0"/>
<text x="18.7 28.2 34.1" y="836.5" fill="#e000e0" font-size="13" font-family="Liberation Sans, sans-serif">1.3</text><rect x="11.6" y="830.0" width="7.6" height="1.3" fill="#e000e0"/>
<rect x="48.5" y="684.2" width="3.7" height="1.4" fill="#e000e0"/>
<text transform="translate(12.0,775.6) rotate(-90)" fill="#ff00ff" stroke="#ff00ff" stroke-width="0.4" font-size="13.5" font-weight="bold" textLength="35" lengthAdjust="spacingAndGlyphs" font-family="Liberation Serif, serif">MACD</text>
<text x="682.4" y="25.6" fill="#e6e6e6" font-size="19" textLength="511" lengthAdjust="spacingAndGlyphs" xml:space="preserve" font-family="'Liberation Serif', 'Noto Serif CJK SC', serif">【胆136中123】频率K线(当前遗漏:0 周期:1 理论周期:1.52)</text>
</svg></body></html>
